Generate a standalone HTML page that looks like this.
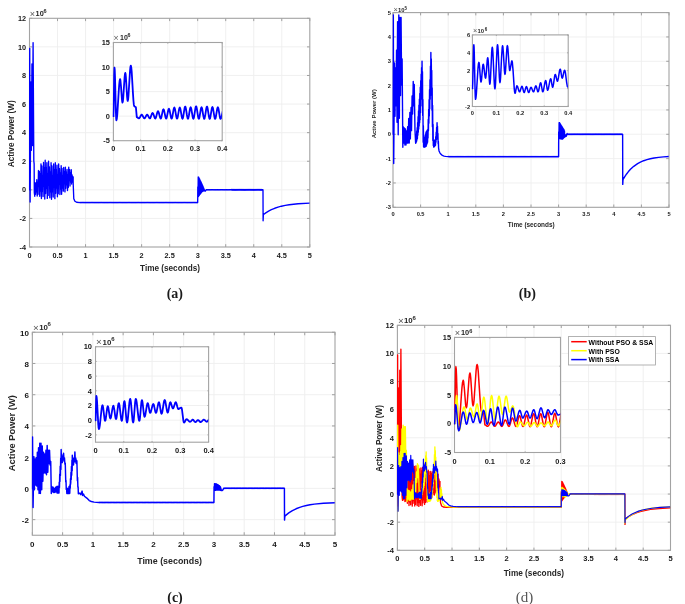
<!DOCTYPE html>
<html><head><meta charset="utf-8"><style>
html,body{margin:0;padding:0;background:#fff;}
svg{display:block;}
text{font-family:"Liberation Sans",sans-serif;font-weight:bold;}
</style></head><body>
<svg width="685" height="604" viewBox="0 0 685 604" style="will-change:transform">
<rect width="685" height="604" fill="#fff"/>
<rect x="29.5" y="18.3" width="280.3" height="228.7" fill="#fff"/>
<path d="M57.53 18.3V247M85.56 18.3V247M113.59 18.3V247M141.62 18.3V247M169.65 18.3V247M197.68 18.3V247M225.71 18.3V247M253.74 18.3V247M281.77 18.3V247M29.5 218.41H309.8M29.5 189.82H309.8M29.5 161.24H309.8M29.5 132.65H309.8M29.5 104.06H309.8M29.5 75.48H309.8M29.5 46.89H309.8" stroke="#eeeeee" stroke-width="0.9" fill="none"/>
<path d="M29.5 247v-2.8M29.5 18.3v2.8M57.53 247v-2.8M57.53 18.3v2.8M85.56 247v-2.8M85.56 18.3v2.8M113.59 247v-2.8M113.59 18.3v2.8M141.62 247v-2.8M141.62 18.3v2.8M169.65 247v-2.8M169.65 18.3v2.8M197.68 247v-2.8M197.68 18.3v2.8M225.71 247v-2.8M225.71 18.3v2.8M253.74 247v-2.8M253.74 18.3v2.8M281.77 247v-2.8M281.77 18.3v2.8M309.8 247v-2.8M309.8 18.3v2.8M29.5 247h2.8M309.8 247h-2.8M29.5 218.41h2.8M309.8 218.41h-2.8M29.5 189.82h2.8M309.8 189.82h-2.8M29.5 161.24h2.8M309.8 161.24h-2.8M29.5 132.65h2.8M309.8 132.65h-2.8M29.5 104.06h2.8M309.8 104.06h-2.8M29.5 75.48h2.8M309.8 75.48h-2.8M29.5 46.89h2.8M309.8 46.89h-2.8M29.5 18.3h2.8M309.8 18.3h-2.8" stroke="#8a8a8a" stroke-width="0.8" fill="none"/>
<rect x="29.5" y="18.3" width="280.3" height="228.7" fill="none" stroke="#a3a3a3" stroke-width="1.1"/>
<clipPath id="c1"><rect x="28.82" y="17.62" width="280.68" height="230.05"/></clipPath>
<g clip-path="url(#c1)" fill="none" stroke-width="1.35" stroke-linejoin="round" stroke-linecap="round">
<path d="M29.5 189.82 29.72 48.32 30.12 201.97 30.88 81.91 31.38 150.37 31.95 64.04 32.45 145.51 33.09 42.6 33.81 160.81 34.14 163.81 34.32 192.68 34.76 196.26 35.11 182.84" stroke="#0000ff"/>
<path d="M35.11 182.84 35.53 194.29 35.95 183.88 36.37 191.73 36.79 179.74 37.21 196.08 37.63 182.06 38.05 194.22 38.47 170.55 38.89 186.23 39.31 171.49 39.73 196.28 40.15 174.14 40.57 191.15 40.99 163.83 41.41 198.46 41.83 166.01 42.25 191.38 42.67 175.74 43.09 196.55 43.52 162.39 43.94 185.84 44.36 168.14 44.78 198.96 45.2 160.29 45.62 193.6 46.04 167.93 46.46 188.21 46.88 162.71 47.3 198.42 47.72 173.87 48.14 195.44 48.56 161.24 48.98 184.89 49.4 166.93 49.82 197.76 50.24 172.31 50.66 191.79 51.08 162.73 51.5 199.26 51.92 165.85 52.34 191.85 52.76 176.35 53.19 197.05 53.61 163.93 54.03 186.65 54.45 169.87 54.87 198.69 55.29 162.78 55.71 193.34 56.13 169.97 56.55 188.15 56.97 165.17 57.39 196.86 57.81 175.01 58.23 193.82 58.65 163.91 59.07 184.25 59.49 168.78 59.91 194.58 60.33 173.32 60.75 189.04 61.17 165.71 61.59 194.3 62.01 168.37 62.44 187.98 62.86 176.29 63.28 191.18 63.7 167.42 64.12 183.52 64.54 171.87 64.96 191.94 65.38 167.24 65.8 188.25 66.22 172.43 66.64 184.76 67.06 169.48 67.48 190.56 67.9 175.43 68.32 187.52 68.74 167.24 69.16 180.21 69.58 169.72 70 186.02 70.42 172.9 70.84 182 71.26 169.73 71.69 184.1 72.11 175.04 72.53 182.2 72.95 176.96" stroke="#0000ff" stroke-width="1.35"/>
<path d="M72.95 176.96 73.79 198.69 74.91 201.26 76.59 202.26 79.95 202.55 80.23 202.37 80.79 202.72 81.36 202.37 81.92 202.72 82.48 202.37 83.04 202.72 83.6 202.37 84.16 202.72 84.72 202.37 85.28 202.72 85.84 202.37 86.4 202.72 86.96 202.37 87.52 202.72 88.08 202.37 88.64 202.72 89.2 202.37 89.76 202.72 90.33 202.37 90.89 202.72 91.45 202.37 92.01 202.72 92.57 202.37 93.13 202.72 93.69 202.37 94.25 202.72 94.81 202.37 95.37 202.72 95.93 202.37 96.49 202.72 97.05 202.37 97.61 202.72 98.17 202.37 98.73 202.72 99.29 202.37 99.86 202.72 100.42 202.37 100.98 202.72 101.54 202.37 102.1 202.72 102.66 202.37 103.22 202.72 103.78 202.37 104.34 202.72 104.9 202.37 105.46 202.72 106.02 202.37 106.58 202.72 107.14 202.37 107.7 202.72 108.26 202.37 108.82 202.72 109.39 202.37 109.95 202.72 110.51 202.37 111.07 202.72 111.63 202.37 112.19 202.72 112.75 202.37 113.31 202.72 113.87 202.37 114.43 202.72 114.99 202.37 115.55 202.72 116.11 202.37 116.67 202.72 117.23 202.37 117.79 202.72 118.36 202.37 118.92 202.72 119.48 202.37 120.04 202.72 120.6 202.37 121.16 202.72 121.72 202.37 122.28 202.72 122.84 202.37 123.4 202.72 123.96 202.37 124.52 202.72 125.08 202.37 125.64 202.72 126.2 202.37 126.76 202.72 127.32 202.37 127.89 202.72 128.45 202.37 129.01 202.72 129.57 202.37 130.13 202.72 130.69 202.37 131.25 202.72 131.81 202.37 132.37 202.72 132.93 202.37 133.49 202.72 134.05 202.37 134.61 202.72 135.17 202.37 135.73 202.72 136.29 202.37 136.85 202.72 137.42 202.37 137.98 202.72 138.54 202.37 139.1 202.72 139.66 202.37 140.22 202.72 140.78 202.37 141.34 202.72 141.9 202.37 142.46 202.72 143.02 202.37 143.58 202.72 144.14 202.37 144.7 202.72 145.26 202.37 145.82 202.72 146.39 202.37 146.95 202.72 147.51 202.37 148.07 202.72 148.63 202.37 149.19 202.72 149.75 202.37 150.31 202.72 150.87 202.37 151.43 202.72 151.99 202.37 152.55 202.72 153.11 202.37 153.67 202.72 154.23 202.37 154.79 202.72 155.35 202.37 155.92 202.72 156.48 202.37 157.04 202.72 157.6 202.37 158.16 202.72 158.72 202.37 159.28 202.72 159.84 202.37 160.4 202.72 160.96 202.37 161.52 202.72 162.08 202.37 162.64 202.72 163.2 202.37 163.76 202.72 164.32 202.37 164.88 202.72 165.45 202.37 166.01 202.72 166.57 202.37 167.13 202.72 167.69 202.37 168.25 202.72 168.81 202.37 169.37 202.72 169.93 202.37 170.49 202.72 171.05 202.37 171.61 202.72 172.17 202.37 172.73 202.72 173.29 202.37 173.85 202.72 174.42 202.37 174.98 202.72 175.54 202.37 176.1 202.72 176.66 202.37 177.22 202.72 177.78 202.37 178.34 202.72 178.9 202.37 179.46 202.72 180.02 202.37 180.58 202.72 181.14 202.37 181.7 202.72 182.26 202.37 182.82 202.72 183.38 202.37 183.95 202.72 184.51 202.37 185.07 202.72 185.63 202.37 186.19 202.72 186.75 202.37 187.31 202.72 187.87 202.37 188.43 202.72 188.99 202.37 189.55 202.72 190.11 202.37 190.67 202.72 191.23 202.37 191.79 202.72 192.35 202.37 192.91 202.72 193.48 202.37 194.04 202.72 194.6 202.37 195.16 202.72 195.72 202.37 196.28 202.72 196.84 202.37 197.4 202.72 197.68 202.55 197.79 186.97 198.02 197.03 198.24 176.96 198.46 196.41 198.69 177.19 198.91 195.79 199.14 178.1 199.36 195.17 199.59 179.01 199.81 194.55 200.03 179.92 200.26 193.97 200.48 180.83 200.71 193.4 200.93 181.74 201.16 192.83 201.38 182.71 201.6 192.25 201.83 183.71 202.05 191.68 202.28 184.71 202.5 191.39 202.73 185.72 202.95 191.19 203.17 186.72 203.4 190.99 203.62 187.82 203.85 190.79 204.07 188.97 204.3 190.59 204.52 189.98 204.74 190.83 204.97 190.59 205.19 191.21 205.42 190.75 205.64 190.75 205.86 190.18 206.09 190.18 206.31 189.61 206.54 189.82 206.93 189.65 207.49 190 208.05 189.65 208.61 190 209.17 189.65 209.73 190 210.29 189.65 210.85 190 211.41 189.65 211.98 190 212.54 189.65 213.1 190 213.66 189.65 214.22 190 214.78 189.65 215.34 190 215.9 189.65 216.46 190 217.02 189.65 217.58 190 218.14 189.65 218.7 190 219.26 189.65 219.82 190 220.38 189.65 220.94 190 221.51 189.65 222.07 190 222.63 189.65 223.19 190 223.75 189.65 224.31 190 224.87 189.65 225.43 190 225.99 189.65 226.55 190 227.11 189.65 227.67 190 228.23 189.65 228.79 190 229.35 189.65 229.91 190 230.48 189.65 231.04 190 231.6 189.44 232.16 190.21 232.72 189.44 233.28 190.21 233.84 189.44 234.4 190.21 234.96 189.44 235.52 190.21 236.08 189.44 236.64 190.21 237.2 189.44 237.76 190.21 238.32 189.44 238.88 190.21 239.44 189.44 240.01 190.21 240.57 189.44 241.13 190.21 241.69 189.44 242.25 190.21 242.81 189.44 243.37 190.21 243.93 189.44 244.49 190.21 245.05 189.44 245.61 190.21 246.17 189.44 246.73 190.21 247.29 189.44 247.85 190.21 248.41 189.44 248.97 190.21 249.54 189.44 250.1 190.21 250.66 189.44 251.22 190.21 251.78 189.44 252.34 190.21 252.9 189.44 253.46 190.21 254.02 189.44 254.58 190.21 255.14 189.44 255.7 190.21 256.26 189.44 256.82 190.21 257.38 189.44 257.94 190.21 258.51 189.44 259.07 190.21 259.63 189.44 260.19 190.21 260.75 189.44 261.31 190.21 261.87 189.44 262.43 190.21 262.99 189.82 263.1 220.7 263.38 214.84 263.55 214.47 265.78 212.84 268.57 211.11 271.35 209.67 274.69 208.26 278.04 207.13 281.38 206.22 285.28 205.38 289.18 204.74 298.1 203.76 309.8 203.11" stroke="#0000ff"/>
</g>
<g font-size="7.3" fill="#181818">
<text x="29.5" y="257.8" text-anchor="middle">0</text>
<text x="57.53" y="257.8" text-anchor="middle">0.5</text>
<text x="85.56" y="257.8" text-anchor="middle">1</text>
<text x="113.59" y="257.8" text-anchor="middle">1.5</text>
<text x="141.62" y="257.8" text-anchor="middle">2</text>
<text x="169.65" y="257.8" text-anchor="middle">2.5</text>
<text x="197.68" y="257.8" text-anchor="middle">3</text>
<text x="225.71" y="257.8" text-anchor="middle">3.5</text>
<text x="253.74" y="257.8" text-anchor="middle">4</text>
<text x="281.77" y="257.8" text-anchor="middle">4.5</text>
<text x="309.8" y="257.8" text-anchor="middle">5</text>
<text x="26" y="249.63" text-anchor="end">-4</text>
<text x="26" y="221.04" text-anchor="end">-2</text>
<text x="26" y="192.45" text-anchor="end">0</text>
<text x="26" y="163.87" text-anchor="end">2</text>
<text x="26" y="135.28" text-anchor="end">4</text>
<text x="26" y="106.69" text-anchor="end">6</text>
<text x="26" y="78.1" text-anchor="end">8</text>
<text x="26" y="49.52" text-anchor="end">10</text>
<text x="26" y="20.93" text-anchor="end">12</text>
</g>
<text x="29.7" y="15.8" font-size="9.12" style="font-weight:normal" fill="#5a5a5a" dy="0.73">&#215;</text>
<text x="35.6" y="15.8" font-size="7.3" fill="#262626">10</text>
<text x="43.6" y="13" font-size="5.55" fill="#262626">6</text>
<rect x="113.4" y="42.5" width="108.8" height="98.2" fill="#fff"/>
<path d="M140.6 42.5V140.7M167.8 42.5V140.7M195 42.5V140.7M113.4 116.15H222.2M113.4 91.6H222.2M113.4 67.05H222.2" stroke="#eeeeee" stroke-width="0.9" fill="none"/>
<path d="M113.4 140.7v-1.1M113.4 42.5v1.1M140.6 140.7v-1.1M140.6 42.5v1.1M167.8 140.7v-1.1M167.8 42.5v1.1M195 140.7v-1.1M195 42.5v1.1M222.2 140.7v-1.1M222.2 42.5v1.1M113.4 140.7h1.1M222.2 140.7h-1.1M113.4 116.15h1.1M222.2 116.15h-1.1M113.4 91.6h1.1M222.2 91.6h-1.1M113.4 67.05h1.1M222.2 67.05h-1.1M113.4 42.5h1.1M222.2 42.5h-1.1" stroke="#8a8a8a" stroke-width="0.8" fill="none"/>
<rect x="113.4" y="42.5" width="108.8" height="98.2" fill="none" stroke="#a3a3a3" stroke-width="1.1"/>
<clipPath id="c2"><rect x="112.5" y="41.6" width="109.4" height="100"/></clipPath>
<g clip-path="url(#c2)" fill="none" stroke-width="1.8" stroke-linejoin="round" stroke-linecap="round">
<path d="M113.4 116.15 113.67 109.03 114.22 74.66 114.49 67.54 114.73 69.55 114.96 75.27 115.92 112.59 116.15 118.31 116.39 120.32 116.85 118.75 117.32 114.28 118.7 91.81 119.17 85.12 119.63 80.65 120.09 79.08 120.39 79.97 121 86.34 121.91 99.15 122.21 101.7 122.51 102.6 122.86 101.47 123.21 98.26 124.59 77.29 124.94 74.07 125.29 72.94 125.59 74.01 125.89 77.04 127.1 96.83 127.4 99.86 127.71 100.93 128.09 99.58 128.48 95.75 130.03 70.75 130.42 66.92 130.81 65.58 131.24 67.12 131.68 71.52 132.98 93.65 133.42 100.24 133.85 104.64 134.29 106.18 135.89 107.21 136.79 117.13 137.32 117.31 138.38 118.18 138.91 118.36 139.26 118.22 139.95 117.22 140.99 115.22 141.34 114.82 141.69 114.68 142.03 114.82 142.37 115.22 143.73 117.83 144.07 118.23 144.41 118.37 144.75 118.23 145.09 117.83 146.45 115.22 146.79 114.82 147.13 114.68 147.47 114.82 147.81 115.22 149.17 117.87 149.51 118.28 149.85 118.42 150.19 118.21 150.53 117.62 151.89 113.76 152.23 113.17 152.57 112.96 152.91 113.17 153.25 113.77 154.61 117.66 154.95 118.26 155.29 118.47 155.63 118.19 155.97 117.41 157.33 112.3 157.67 111.52 158.01 111.24 158.35 111.52 158.69 112.31 160.05 117.45 160.39 118.24 160.73 118.52 161.07 118.16 161.41 117.16 162.77 110.63 163.11 109.63 163.45 109.28 163.79 109.63 164.13 110.64 165.49 117.21 165.83 118.21 166.17 118.57 166.51 118.19 166.85 117.13 168.21 110.22 168.55 109.16 168.89 108.78 169.23 109.16 169.57 110.22 170.93 117.18 171.27 118.24 171.61 118.61 171.95 118.19 172.29 117 173.65 109.18 173.99 107.98 174.33 107.56 174.67 107.98 175.01 109.18 176.37 117.04 176.71 118.24 177.05 118.66 177.39 118.24 177.73 117.04 179.09 109.18 179.43 107.98 179.77 107.56 180.11 107.98 180.45 109.19 181.81 117.08 182.15 118.29 182.49 118.71 182.83 118.25 183.17 116.94 184.53 108.35 184.87 107.04 185.21 106.58 185.55 107.04 185.89 108.36 186.91 115 187.59 118.3 187.93 118.76 188.27 118.33 188.95 115.23 189.97 108.99 190.31 107.75 190.65 107.31 190.99 107.75 191.33 109 192.69 117.13 193.03 118.37 193.37 118.81 193.71 118.34 194.05 116.98 195.41 108.16 195.75 106.81 196.09 106.33 196.43 106.81 196.77 108.16 198.13 117.02 198.47 118.37 198.81 118.85 199.15 118.41 199.49 117.16 200.85 109 201.19 107.75 201.53 107.31 201.87 107.75 202.21 109 203.23 115.29 203.91 118.41 204.25 118.85 204.59 118.38 205.27 115.06 206.29 108.37 206.63 107.04 206.97 106.58 207.31 107.04 207.65 108.37 209.01 117.05 209.35 118.38 209.69 118.85 210.03 118.4 210.37 117.12 211.73 108.79 212.07 107.52 212.41 107.07 212.75 107.52 213.09 108.79 214.45 117.12 214.79 118.4 215.13 118.85 215.47 118.41 215.81 117.16 217.17 109 217.51 107.75 217.85 107.31 218.19 107.75 218.53 109 219.89 117.16 220.23 118.41 220.57 118.85 221.01 118.41 221.45 117.16 223.22 109 223.66 107.75 224.1 107.31 224.44 107.75 224.78 109 225.8 115.29 226.48 118.41 226.82 118.85 227.16 118.4 227.5 117.1" stroke="#0000ff"/>
</g>
<g font-size="7.4" fill="#181818">
<text x="113.4" y="151.3" text-anchor="middle">0</text>
<text x="140.6" y="151.3" text-anchor="middle">0.1</text>
<text x="167.8" y="151.3" text-anchor="middle">0.2</text>
<text x="195" y="151.3" text-anchor="middle">0.3</text>
<text x="222.2" y="151.3" text-anchor="middle">0.4</text>
<text x="109.9" y="143.36" text-anchor="end">-5</text>
<text x="109.9" y="118.81" text-anchor="end">0</text>
<text x="109.9" y="94.26" text-anchor="end">5</text>
<text x="109.9" y="69.71" text-anchor="end">10</text>
<text x="109.9" y="45.16" text-anchor="end">15</text>
</g>
<text x="113.6" y="40.3" font-size="8.75" style="font-weight:normal" fill="#5a5a5a" dy="0.7">&#215;</text>
<text x="120" y="40.3" font-size="7" fill="#262626">10</text>
<text x="127.6" y="37.2" font-size="5.32" fill="#262626">6</text>
<rect x="393" y="12.6" width="276" height="194.7" fill="#fff"/>
<path d="M420.6 12.6V207.3M448.2 12.6V207.3M475.8 12.6V207.3M503.4 12.6V207.3M531 12.6V207.3M558.6 12.6V207.3M586.2 12.6V207.3M613.8 12.6V207.3M641.4 12.6V207.3M393 182.96H669M393 158.62H669M393 134.29H669M393 109.95H669M393 85.61H669M393 61.28H669M393 36.94H669" stroke="#eeeeee" stroke-width="0.9" fill="none"/>
<path d="M393 207.3v-2.8M393 12.6v2.8M420.6 207.3v-2.8M420.6 12.6v2.8M448.2 207.3v-2.8M448.2 12.6v2.8M475.8 207.3v-2.8M475.8 12.6v2.8M503.4 207.3v-2.8M503.4 12.6v2.8M531 207.3v-2.8M531 12.6v2.8M558.6 207.3v-2.8M558.6 12.6v2.8M586.2 207.3v-2.8M586.2 12.6v2.8M613.8 207.3v-2.8M613.8 12.6v2.8M641.4 207.3v-2.8M641.4 12.6v2.8M669 207.3v-2.8M669 12.6v2.8M393 207.3h2.8M669 207.3h-2.8M393 182.96h2.8M669 182.96h-2.8M393 158.62h2.8M669 158.62h-2.8M393 134.29h2.8M669 134.29h-2.8M393 109.95h2.8M669 109.95h-2.8M393 85.61h2.8M669 85.61h-2.8M393 61.28h2.8M669 61.28h-2.8M393 36.94h2.8M669 36.94h-2.8M393 12.6h2.8M669 12.6h-2.8" stroke="#8a8a8a" stroke-width="0.8" fill="none"/>
<rect x="393" y="12.6" width="276" height="194.7" fill="none" stroke="#a3a3a3" stroke-width="1.1"/>
<clipPath id="c3"><rect x="392.3" y="11.9" width="276.4" height="196.1"/></clipPath>
<g clip-path="url(#c3)" fill="none" stroke-width="1.4" stroke-linejoin="round" stroke-linecap="round">
<path d="M393 134.29 393.33 15.03 393.72 163.49 394.49 62.98 394.99 116.28 395.48 67.85 396.04 105.81 396.53 50.32 397.03 122.36 397.58 21.6 398.19 134.77 398.8 15.03 399.35 118.22 399.96 17.47 400.51 95.59 401.06 17.47 401.61 85.13 402.11 58.84 402.83 147.19 403.27 126.74 403.87 143.05 404.43 127.96 404.92 145 405.45 128.93 405.97 145 406.5 130.88 407.08 143.05 407.63 126.74 408.12 143.05 408.73 118.47 409.23 143.05 409.89 112.38 410.33 138.91 411.05 107.52 411.49 130.64 412.1 95.83 412.6 114.09 413.23 81.48 413.7 105.81 414.25 84.4 414.97 129.66 415.63 143.29 415.85 137.53 416.07 142.72 416.29 134.29 416.52 141.43 416.74 131.04 416.96 140.13 417.18 127.8 417.4 138.38 417.62 122.61 417.84 135.26 418.06 116.76 418.28 132.15 418.5 110.92 418.72 129.03 418.94 105.08 419.16 125.92 419.39 99.24 419.61 122.8 419.83 93.4 420.05 119.68 420.27 87.22 420.49 112.87 420.71 80.7 420.93 106.06 421.15 74.17 421.37 99.24 421.59 67.65 421.81 92.43 422.04 61.13 422.26 85.61 422.48 71.76 422.7 115.47 422.92 99.53 423.14 142.17 423.36 125.77 423.58 146.85 423.8 140.94 424.02 147.28 424.24 139.21 424.46 147.11 424.68 137.48 424.91 146.93 425.13 135.75 425.35 146.76 425.57 134.02 425.79 146.59 426.01 132.29 426.23 146.13 426.45 131.37 426.67 144.83 426.89 130.72 427.11 143.54 427.33 130.07 427.56 142.24 427.78 129.42 428 137.94 428.22 119.49 428.44 130.64 428.66 109.56 428.88 123.34 429.1 99.63 429.32 116.03 429.54 89.7 429.76 108.73 429.98 79.77 430.2 99.36 430.43 66.14 430.65 87.9 430.87 52.51 431.09 84.68 431.31 59.07 431.53 95.16 431.75 70.52 431.97 110.19 432.19 88.05 432.41 126.74 432.63 105.57 432.85 140.43 433.08 124.55 433.3 145.52 433.52 141.52 433.74 147.13 433.96 141 434.18 146.66 434.4 140.47 434.62 146.19 434.84 139.94 435.06 145.71 435.28 139.42 435.5 145.24 435.72 136.82 435.95 142.32 436.17 132.15 436.39 139.4 436.61 127.47 436.83 136.48 437.05 122.8 437.27 135.26 437.49 126.3 437.71 139.16 437.93 133.41 438.15 143.63 438.37 141.39 438.6 148.11 439.04 150.95 439.91 152.82 440.78 154.08 441.87 155.09 442.96 155.71 444.05 156.09 445.58 156.38 448.2 156.59 448.48 156.48 449.03 156.87 449.58 156.48 450.13 156.87 450.68 156.48 451.24 156.87 451.79 156.48 452.34 156.87 452.89 156.48 453.44 156.87 454 156.48 454.55 156.87 455.1 156.48 455.65 156.87 456.2 156.48 456.76 156.87 457.31 156.48 457.86 156.87 458.41 156.48 458.96 156.87 459.52 156.48 460.07 156.87 460.62 156.48 461.17 156.87 461.72 156.48 462.28 156.87 462.83 156.48 463.38 156.87 463.93 156.48 464.48 156.87 465.04 156.48 465.59 156.87 466.14 156.48 466.69 156.87 467.24 156.48 467.8 156.87 468.35 156.48 468.9 156.87 469.45 156.48 470 156.87 470.56 156.48 471.11 156.87 471.66 156.48 472.21 156.87 472.76 156.48 473.32 156.87 473.87 156.48 474.42 156.87 474.97 156.48 475.52 156.87 476.08 156.48 476.63 156.87 477.18 156.48 477.73 156.87 478.28 156.48 478.84 156.87 479.39 156.48 479.94 156.87 480.49 156.48 481.04 156.87 481.6 156.48 482.15 156.87 482.7 156.48 483.25 156.87 483.8 156.48 484.36 156.87 484.91 156.48 485.46 156.87 486.01 156.48 486.56 156.87 487.12 156.48 487.67 156.87 488.22 156.48 488.77 156.87 489.32 156.48 489.88 156.87 490.43 156.48 490.98 156.87 491.53 156.48 492.08 156.87 492.64 156.48 493.19 156.87 493.74 156.48 494.29 156.87 494.84 156.48 495.4 156.87 495.95 156.48 496.5 156.87 497.05 156.48 497.6 156.87 498.16 156.48 498.71 156.87 499.26 156.48 499.81 156.87 500.36 156.48 500.92 156.87 501.47 156.48 502.02 156.87 502.57 156.48 503.12 156.87 503.68 156.48 504.23 156.87 504.78 156.48 505.33 156.87 505.88 156.48 506.44 156.87 506.99 156.48 507.54 156.87 508.09 156.48 508.64 156.87 509.2 156.48 509.75 156.87 510.3 156.48 510.85 156.87 511.4 156.48 511.96 156.87 512.51 156.48 513.06 156.87 513.61 156.48 514.16 156.87 514.72 156.48 515.27 156.87 515.82 156.48 516.37 156.87 516.92 156.48 517.48 156.87 518.03 156.48 518.58 156.87 519.13 156.48 519.68 156.87 520.24 156.48 520.79 156.87 521.34 156.48 521.89 156.87 522.44 156.48 523 156.87 523.55 156.48 524.1 156.87 524.65 156.48 525.2 156.87 525.76 156.48 526.31 156.87 526.86 156.48 527.41 156.87 527.96 156.48 528.52 156.87 529.07 156.48 529.62 156.87 530.17 156.48 530.72 156.87 531.28 156.48 531.83 156.87 532.38 156.48 532.93 156.87 533.48 156.48 534.04 156.87 534.59 156.48 535.14 156.87 535.69 156.48 536.24 156.87 536.8 156.48 537.35 156.87 537.9 156.48 538.45 156.87 539 156.48 539.56 156.87 540.11 156.48 540.66 156.87 541.21 156.48 541.76 156.87 542.32 156.48 542.87 156.87 543.42 156.48 543.97 156.87 544.52 156.48 545.08 156.87 545.63 156.48 546.18 156.87 546.73 156.48 547.28 156.87 547.84 156.48 548.39 156.87 548.94 156.48 549.49 156.87 550.04 156.48 550.6 156.87 551.15 156.48 551.7 156.87 552.25 156.48 552.8 156.87 553.36 156.48 553.91 156.87 554.46 156.48 555.01 156.87 555.56 156.48 556.12 156.87 556.67 156.48 557.22 156.87 557.77 156.48 558.32 156.87 558.6 156.68 558.71 131.85 558.93 138.46 559.15 122.61 559.37 138.54 559.59 122.78 559.81 138.63 560.04 123.48 560.26 138.72 560.48 124.18 560.7 138.81 560.92 124.88 561.14 138.89 561.36 125.58 561.58 138.98 561.8 126.28 562.02 139.07 562.24 126.98 562.46 139.16 562.68 127.68 562.91 138.71 563.13 128.38 563.35 138.26 563.57 129.08 563.79 137.82 564.01 129.78 564.23 137.37 564.45 130.86 564.67 136.99 564.89 134.58 565.11 136.68 565.33 135.29 565.56 136.52 565.78 135 566 136.36 566.22 134.72 566.44 135.94 566.66 134.43 566.88 134.77 567.1 133.48 567.32 134.51 567.71 134 568.26 134.48 568.81 134 569.36 134.48 569.92 134 570.47 134.48 571.02 134 571.57 134.48 572.12 134 572.68 134.48 573.23 134 573.78 134.48 574.33 134 574.88 134.48 575.44 134 575.99 134.48 576.54 134 577.09 134.48 577.64 134 578.2 134.48 578.75 134 579.3 134.48 579.85 134 580.4 134.48 580.96 134 581.51 134.48 582.06 134 582.61 134.48 583.16 134 583.72 134.48 584.27 134 584.82 134.48 585.37 134 585.92 134.48 586.48 134 587.03 134.48 587.58 134 588.13 134.48 588.68 134 589.24 134.48 589.79 134 590.34 134.48 590.89 134 591.44 134.48 592 134 592.55 134.48 593.1 134 593.65 134.48 594.2 134 594.76 134.48 595.31 134 595.86 134.48 596.41 134 596.96 134.48 597.52 134 598.07 134.48 598.62 134 599.17 134.48 599.72 134 600.28 134.48 600.83 134 601.38 134.48 601.93 134 602.48 134.48 603.04 134 603.59 134.48 604.14 134 604.69 134.48 605.24 134 605.8 134.48 606.35 134 606.9 134.48 607.45 134 608 134.48 608.56 134 609.11 134.48 609.66 134 610.21 134.48 610.76 134 611.32 134.48 611.87 134 612.42 134.48 612.97 134 613.52 134.48 614.08 134 614.63 134.48 615.18 134 615.73 134.48 616.28 134 616.84 134.48 617.39 134 617.94 134.48 618.49 134 619.04 134.48 619.6 134 620.15 134.48 620.7 134 621.25 134.48 621.8 134 622.36 134.48 622.63 134.29 622.74 184.42 623.07 178.58 623.29 179.12 624.95 176.37 626.6 173.95 628.25 171.81 630.45 169.34 633.76 166.33 637.61 163.65 640.37 162.16 643.67 160.73 646.97 159.62 650.28 158.76 654.13 157.99 658.54 157.34 663.49 156.83 669 156.45" stroke="#0000ff"/>
</g>
<g font-size="5.7" fill="#181818">
<text x="393" y="215.5" text-anchor="middle">0</text>
<text x="420.6" y="215.5" text-anchor="middle">0.5</text>
<text x="448.2" y="215.5" text-anchor="middle">1</text>
<text x="475.8" y="215.5" text-anchor="middle">1.5</text>
<text x="503.4" y="215.5" text-anchor="middle">2</text>
<text x="531" y="215.5" text-anchor="middle">2.5</text>
<text x="558.6" y="215.5" text-anchor="middle">3</text>
<text x="586.2" y="215.5" text-anchor="middle">3.5</text>
<text x="613.8" y="215.5" text-anchor="middle">4</text>
<text x="641.4" y="215.5" text-anchor="middle">4.5</text>
<text x="669" y="215.5" text-anchor="middle">5</text>
<text x="390.9" y="209.35" text-anchor="end">-3</text>
<text x="390.9" y="185.01" text-anchor="end">-2</text>
<text x="390.9" y="160.68" text-anchor="end">-1</text>
<text x="390.9" y="136.34" text-anchor="end">0</text>
<text x="390.9" y="112" text-anchor="end">1</text>
<text x="390.9" y="87.66" text-anchor="end">2</text>
<text x="390.9" y="63.33" text-anchor="end">3</text>
<text x="390.9" y="38.99" text-anchor="end">4</text>
<text x="390.9" y="14.65" text-anchor="end">5</text>
</g>
<text x="393.6" y="11.7" font-size="7.38" style="font-weight:normal" fill="#5a5a5a" dy="0.59">&#215;</text>
<text x="397.9" y="11.7" font-size="5.9" fill="#262626">10</text>
<text x="404.4" y="9.9" font-size="4.48" fill="#262626">5</text>
<rect x="472.4" y="34.9" width="95.8" height="71.6" fill="#fff"/>
<path d="M496.35 34.9V106.5M520.3 34.9V106.5M544.25 34.9V106.5M472.4 88.6H568.2M472.4 70.7H568.2M472.4 52.8H568.2" stroke="#eeeeee" stroke-width="0.9" fill="none"/>
<path d="M472.4 106.5v-1M472.4 34.9v1M496.35 106.5v-1M496.35 34.9v1M520.3 106.5v-1M520.3 34.9v1M544.25 106.5v-1M544.25 34.9v1M568.2 106.5v-1M568.2 34.9v1M472.4 106.5h1M568.2 106.5h-1M472.4 88.6h1M568.2 88.6h-1M472.4 70.7h1M568.2 70.7h-1M472.4 52.8h1M568.2 52.8h-1M472.4 34.9h1M568.2 34.9h-1" stroke="#8a8a8a" stroke-width="0.8" fill="none"/>
<rect x="472.4" y="34.9" width="95.8" height="71.6" fill="none" stroke="#a3a3a3" stroke-width="1.1"/>
<clipPath id="c4"><rect x="471.65" y="34.15" width="96.25" height="73.1"/></clipPath>
<g clip-path="url(#c4)" fill="none" stroke-width="1.5" stroke-linejoin="round" stroke-linecap="round">
<path d="M472.4 88.6 472.58 86.93 472.76 82.18 473.48 51.17 473.66 46.41 473.84 44.75 474.05 46.82 474.26 52.74 475.09 91.34 475.3 97.26 475.51 99.34 475.93 97.93 476.35 93.93 478.03 67.79 478.45 63.78 478.87 62.38 479.14 63.12 479.41 65.25 480.48 79.11 480.75 81.23 481.02 81.98 481.29 81.3 481.56 79.37 482.64 66.77 482.91 64.84 483.18 64.17 483.48 64.7 483.78 66.21 484.67 73.82 485.27 77.6 485.57 78.13 485.84 77.35 486.38 71.83 487.19 60.71 487.46 58.5 487.73 57.72 488 58.73 488.27 61.6 489.34 80.33 489.61 83.21 489.88 84.21 490.18 82.8 490.48 78.79 491.68 52.59 491.98 48.57 492.28 47.16 492.61 48.75 492.94 53.26 494.25 82.68 494.58 87.2 494.91 88.78 495.24 87.1 495.57 82.33 496.89 51.19 497.22 46.42 497.55 44.75 497.85 46.19 498.15 50.3 499.34 77.14 499.64 81.25 499.94 82.69 500.27 81.28 500.6 77.27 501.59 57.08 502.25 47.05 502.58 45.64 502.88 46.73 503.48 54.51 504.37 70.16 504.67 73.28 504.97 74.37 505.27 73.28 505.57 70.16 506.77 49.85 507.07 46.73 507.37 45.64 507.67 46.59 507.97 49.28 508.86 62.84 509.46 69.57 509.76 70.52 510.03 70.15 511.65 61.22 511.92 60.86 512.31 62.09 513.09 70.88 514.25 88.59 514.64 92.11 515.03 93.34 515.27 93.06 515.51 92.24 516.47 86.93 516.71 86.11 516.95 85.83 517.28 86.05 517.61 86.7 518.92 90.94 519.25 91.59 519.58 91.82 519.88 91.61 520.18 91.01 521.08 87.99 521.68 86.48 521.98 86.27 522.25 86.51 522.78 88.21 523.59 91.62 523.86 92.3 524.13 92.54 524.42 92.31 524.7 91.67 525.84 87.5 526.12 86.86 526.41 86.63 526.69 86.86 526.98 87.5 528.11 91.67 528.4 92.31 528.68 92.54 528.97 92.34 529.26 91.78 530.41 88.11 530.69 87.54 530.98 87.35 531.29 87.52 531.6 88 532.85 91.17 533.16 91.65 533.47 91.82 533.77 91.59 534.07 90.94 535.27 86.7 535.57 86.05 535.87 85.83 536.14 86.05 536.41 86.7 537.48 90.94 537.75 91.59 538.02 91.82 538.35 91.48 538.68 90.5 540 84.11 540.33 83.13 540.66 82.78 540.93 83.13 541.2 84.11 542.27 90.5 542.54 91.48 542.81 91.82 543.17 91.39 543.53 90.17 544.97 82.2 545.33 80.97 545.69 80.55 545.93 80.92 546.17 81.97 547.12 88.87 547.36 89.93 547.6 90.3 547.99 89.86 548.38 88.61 549.94 80.45 550.33 79.19 550.72 78.75 550.96 79.08 551.2 80 551.91 84.63 552.39 86.93 552.63 87.26 552.96 86.77 553.62 83.31 554.61 76.33 554.94 74.95 555.27 74.46 555.54 74.71 555.81 75.44 556.61 79.1 557.15 80.92 557.42 81.17 557.77 80.72 558.46 77.47 559.49 70.93 559.83 69.63 560.18 69.18 560.43 69.52 560.69 70.49 561.7 76.82 561.96 77.79 562.21 78.13 562.51 77.83 562.81 76.98 563.71 72.68 564.31 70.55 564.61 70.25 565 70.89 565.39 72.69 566.55 81.76 567.33 86.27 567.72 86.9 568.08 87.09 568.44 87.63 569.52 90.36 570.24 91.72 570.6 91.91 570.71 91.83 571.31 90.1 571.55 89.79 571.79 90.07 572.27 91.42 572.51 91.7 572.75 91.25 572.99 90.15" stroke="#0000ff"/>
</g>
<g font-size="5.7" fill="#181818">
<text x="472.4" y="115.2" text-anchor="middle">0</text>
<text x="496.35" y="115.2" text-anchor="middle">0.1</text>
<text x="520.3" y="115.2" text-anchor="middle">0.2</text>
<text x="544.25" y="115.2" text-anchor="middle">0.3</text>
<text x="568.2" y="115.2" text-anchor="middle">0.4</text>
<text x="470.1" y="108.55" text-anchor="end">-2</text>
<text x="470.1" y="90.65" text-anchor="end">0</text>
<text x="470.1" y="72.75" text-anchor="end">2</text>
<text x="470.1" y="54.85" text-anchor="end">4</text>
<text x="470.1" y="36.95" text-anchor="end">6</text>
</g>
<text x="473" y="32.9" font-size="7.38" style="font-weight:normal" fill="#5a5a5a" dy="0.59">&#215;</text>
<text x="477.6" y="32.9" font-size="5.9" fill="#262626">10</text>
<text x="484.7" y="31.1" font-size="4.48" fill="#262626">6</text>
<rect x="32.35" y="332.25" width="302.65" height="203" fill="#fff"/>
<path d="M62.62 332.25V535.25M92.88 332.25V535.25M123.14 332.25V535.25M153.41 332.25V535.25M183.67 332.25V535.25M213.94 332.25V535.25M244.2 332.25V535.25M274.47 332.25V535.25M304.74 332.25V535.25M32.35 519.63H335M32.35 488.4H335M32.35 457.17H335M32.35 425.94H335M32.35 394.71H335M32.35 363.48H335" stroke="#eeeeee" stroke-width="0.9" fill="none"/>
<path d="M32.35 535.25v-3M32.35 332.25v3M62.62 535.25v-3M62.62 332.25v3M92.88 535.25v-3M92.88 332.25v3M123.14 535.25v-3M123.14 332.25v3M153.41 535.25v-3M153.41 332.25v3M183.67 535.25v-3M183.67 332.25v3M213.94 535.25v-3M213.94 332.25v3M244.2 535.25v-3M244.2 332.25v3M274.47 535.25v-3M274.47 332.25v3M304.74 535.25v-3M304.74 332.25v3M335 535.25v-3M335 332.25v3M32.35 519.63h3M335 519.63h-3M32.35 488.4h3M335 488.4h-3M32.35 457.17h3M335 457.17h-3M32.35 425.94h3M335 425.94h-3M32.35 394.71h3M335 394.71h-3M32.35 363.48h3M335 363.48h-3M32.35 332.25h3M335 332.25h-3" stroke="#8a8a8a" stroke-width="0.8" fill="none"/>
<rect x="32.35" y="332.25" width="302.65" height="203" fill="none" stroke="#a3a3a3" stroke-width="1.1"/>
<clipPath id="c5"><rect x="31.62" y="331.52" width="303.07" height="204.45"/></clipPath>
<g clip-path="url(#c5)" fill="none" stroke-width="1.45" stroke-linejoin="round" stroke-linecap="round">
<path d="M32.35 488.72 32.54 436.87 33.08 507.45 33.85 456.7 34.41 489.81 34.98 458.89 35.54 484.97 36.18 457.8 36.74 486.06 37.34 452.18 37.97 489.81 38.54 447.8 39.1 493.4 39.78 443.12 40.41 493.4 40.98 443.12 41.73 489.81 42.29 445.93 42.85 481.22 43.53 452.18 44.05 472.94 44.73 454.05 45.29 472.94 45.93 450.3 46.49 474.82 47.16 445.46 47.8 472.32 48.37 450.3 48.93 463.42 49.53 450.3 50.09 464.98 50.73 461.55 51.3 493.56 51.84 486.37 52.6 491.84 53.17 487.31 53.72 492.46 54.29 488.4 54.85 492.46 55.53 487.31 56.17 491.84 56.8 486.53 57.05 493.09 57.29 486.53 57.53 493.09 57.77 486.53 58.01 493.09 58.26 486.53 58.5 493.09 58.74 486.53 58.98 493.09 59.23 482.35 59.47 487.43 59.71 474.3 59.95 481.46 60.19 466.25 60.44 475.5 60.68 458.2 60.92 469.53 61.16 449.52 61.46 461.08 61.83 454.83 62.25 462.64 62.74 457.17 63.16 459.52 63.58 453.27 64.07 461.08 64.49 457.95 64.92 464.2 65.28 463.26 65.76 481.97 66 480.44 66.25 489.59 66.61 488.4 66.85 493.4 67.09 488.4 67.34 493.4 67.58 488.4 67.82 493.4 68.06 488.4 68.3 493.4 68.55 488.4 68.79 493.4 69.03 486.53 69.27 493.4 69.52 486.53 69.76 493.4 70 484.84 70.24 488.25 70.48 478.68 70.73 483.88 70.97 472.53 71.21 479.5 71.45 466.38 71.69 475.13 71.94 460.23 72.18 470.76 72.3 455.3 72.66 463.42 73.09 457.95 73.51 464.98 73.99 458.73 74.42 461.86 74.9 451.86 75.33 461.86 75.75 457.95 76.17 463.42 76.54 460.3 76.9 461.08 77.38 480.82 77.63 477.47 77.87 487.29 78.11 486.84 78.35 493.76 79.87 493.09 80.77 494.65 82.11 491.06 82.59 495.43 83.5 494.03 84.41 496.21 86.83 498.09 89.25 500.58 91.37 501.52 94.09 502.15 98.93 502.46 99.24 502.27 99.84 502.65 100.45 502.27 101.05 502.65 101.66 502.27 102.26 502.65 102.87 502.27 103.47 502.65 104.08 502.27 104.68 502.65 105.29 502.27 105.89 502.65 106.5 502.27 107.1 502.65 107.71 502.27 108.32 502.65 108.92 502.27 109.53 502.65 110.13 502.27 110.74 502.65 111.34 502.27 111.95 502.65 112.55 502.27 113.16 502.65 113.76 502.27 114.37 502.65 114.97 502.27 115.58 502.65 116.18 502.27 116.79 502.65 117.39 502.27 118 502.65 118.61 502.27 119.21 502.65 119.82 502.27 120.42 502.65 121.03 502.27 121.63 502.65 122.24 502.27 122.84 502.65 123.45 502.27 124.05 502.65 124.66 502.27 125.26 502.65 125.87 502.27 126.47 502.65 127.08 502.27 127.68 502.65 128.29 502.27 128.9 502.65 129.5 502.27 130.11 502.65 130.71 502.27 131.32 502.65 131.92 502.27 132.53 502.65 133.13 502.27 133.74 502.65 134.34 502.27 134.95 502.65 135.55 502.27 136.16 502.65 136.76 502.27 137.37 502.65 137.97 502.27 138.58 502.65 139.19 502.27 139.79 502.65 140.4 502.27 141 502.65 141.61 502.27 142.21 502.65 142.82 502.27 143.42 502.65 144.03 502.27 144.63 502.65 145.24 502.27 145.84 502.65 146.45 502.27 147.05 502.65 147.66 502.27 148.26 502.65 148.87 502.27 149.48 502.65 150.08 502.27 150.69 502.65 151.29 502.27 151.9 502.65 152.5 502.27 153.11 502.65 153.71 502.27 154.32 502.65 154.92 502.27 155.53 502.65 156.13 502.27 156.74 502.65 157.34 502.27 157.95 502.65 158.56 502.27 159.16 502.65 159.77 502.27 160.37 502.65 160.98 502.27 161.58 502.65 162.19 502.27 162.79 502.65 163.4 502.27 164 502.65 164.61 502.27 165.21 502.65 165.82 502.27 166.42 502.65 167.03 502.27 167.63 502.65 168.24 502.27 168.85 502.65 169.45 502.27 170.06 502.65 170.66 502.27 171.27 502.65 171.87 502.27 172.48 502.65 173.08 502.27 173.69 502.65 174.29 502.27 174.9 502.65 175.5 502.27 176.11 502.65 176.71 502.27 177.32 502.65 177.92 502.27 178.53 502.65 179.14 502.27 179.74 502.65 180.35 502.27 180.95 502.65 181.56 502.27 182.16 502.65 182.77 502.27 183.37 502.65 183.98 502.27 184.58 502.65 185.19 502.27 185.79 502.65 186.4 502.27 187 502.65 187.61 502.27 188.21 502.65 188.82 502.27 189.43 502.65 190.03 502.27 190.64 502.65 191.24 502.27 191.85 502.65 192.45 502.27 193.06 502.65 193.66 502.27 194.27 502.65 194.87 502.27 195.48 502.65 196.08 502.27 196.69 502.65 197.29 502.27 197.9 502.65 198.5 502.27 199.11 502.65 199.72 502.27 200.32 502.65 200.93 502.27 201.53 502.65 202.14 502.27 202.74 502.65 203.35 502.27 203.95 502.65 204.56 502.27 205.16 502.65 205.77 502.27 206.37 502.65 206.98 502.27 207.58 502.65 208.19 502.27 208.79 502.65 209.4 502.27 210.01 502.65 210.61 502.27 211.22 502.65 211.82 502.27 212.43 502.65 213.03 502.27 213.64 502.65 213.94 502.46 214.06 486.84 214.3 490.27 214.55 483.65 214.79 490.23 215.03 483.75 215.27 490.2 215.51 483.85 215.76 490.17 216 483.96 216.24 490.14 216.48 484.09 216.72 490.1 216.97 484.34 217.21 490.07 217.45 484.59 217.69 490.04 217.93 484.84 218.18 490.01 218.42 485.09 218.66 489.97 218.9 485.38 219.15 490.03 219.39 485.8 219.63 490.11 219.87 486.22 220.11 490.19 220.36 486.63 220.6 490.28 220.84 488.09 221.08 490.53 221.32 490.03 221.57 490.59 221.81 490.28 222.05 490.59 222.54 490.37 223.93 488.06 224.53 488.44 225.14 488.06 225.74 488.44 226.35 488.06 226.95 488.44 227.56 488.06 228.16 488.44 228.77 488.06 229.38 488.44 229.98 488.06 230.59 488.44 231.19 488.06 231.8 488.44 232.4 488.06 233.01 488.44 233.61 488.06 234.22 488.44 234.82 488.06 235.43 488.44 236.03 488.06 236.64 488.44 237.24 488.06 237.85 488.44 238.45 488.06 239.06 488.44 239.67 488.06 240.27 488.44 240.88 488.06 241.48 488.44 242.09 488.06 242.69 488.44 243.3 488.06 243.9 488.44 244.51 488.06 245.11 488.44 245.72 488.06 246.32 488.44 246.93 488.06 247.53 488.44 248.14 488.06 248.74 488.44 249.35 488.06 249.96 488.44 250.56 488.06 251.17 488.44 251.77 488.06 252.38 488.44 252.98 488.06 253.59 488.44 254.19 488.06 254.8 488.44 255.4 488.06 256.01 488.44 256.61 488.06 257.22 488.44 257.82 488.06 258.43 488.44 259.03 488.06 259.64 488.44 260.25 488.06 260.85 488.44 261.46 488.06 262.06 488.44 262.67 488.06 263.27 488.44 263.88 488.06 264.48 488.44 265.09 488.06 265.69 488.44 266.3 488.06 266.9 488.44 267.51 488.06 268.11 488.44 268.72 488.06 269.32 488.44 269.93 488.06 270.54 488.44 271.14 488.06 271.75 488.44 272.35 488.06 272.96 488.44 273.56 488.06 274.17 488.44 274.77 488.06 275.38 488.44 275.98 488.06 276.59 488.44 277.19 488.06 277.8 488.44 278.4 488.06 279.01 488.44 279.62 488.06 280.22 488.44 280.83 488.06 281.43 488.44 282.04 488.06 282.64 488.44 283.25 488.06 283.85 488.44 284.4 488.25 284.52 520.1 284.88 515.73 285.12 515.87 288.77 512.93 292.42 510.62 296.07 508.8 299.72 507.37 302.76 506.42 306.41 505.51 310.06 504.79 314.32 504.14 323.44 503.24 335 502.65" stroke="#0000ff"/>
</g>
<g font-size="8.0" fill="#181818">
<text x="32.35" y="546.65" text-anchor="middle">0</text>
<text x="62.62" y="546.65" text-anchor="middle">0.5</text>
<text x="92.88" y="546.65" text-anchor="middle">1</text>
<text x="123.14" y="546.65" text-anchor="middle">1.5</text>
<text x="153.41" y="546.65" text-anchor="middle">2</text>
<text x="183.67" y="546.65" text-anchor="middle">2.5</text>
<text x="213.94" y="546.65" text-anchor="middle">3</text>
<text x="244.2" y="546.65" text-anchor="middle">3.5</text>
<text x="274.47" y="546.65" text-anchor="middle">4</text>
<text x="304.74" y="546.65" text-anchor="middle">4.5</text>
<text x="335" y="546.65" text-anchor="middle">5</text>
<text x="28.95" y="523.01" text-anchor="end">-2</text>
<text x="28.95" y="491.78" text-anchor="end">0</text>
<text x="28.95" y="460.55" text-anchor="end">2</text>
<text x="28.95" y="429.32" text-anchor="end">4</text>
<text x="28.95" y="398.09" text-anchor="end">6</text>
<text x="28.95" y="366.86" text-anchor="end">8</text>
<text x="28.95" y="335.63" text-anchor="end">10</text>
</g>
<text x="33" y="330" font-size="9.88" style="font-weight:normal" fill="#5a5a5a" dy="0.79">&#215;</text>
<text x="39.2" y="330" font-size="7.9" fill="#262626">10</text>
<text x="47.5" y="326.3" font-size="6" fill="#262626">6</text>
<rect x="95.5" y="346.75" width="113.1" height="95.45" fill="#fff"/>
<path d="M123.78 346.75V442.2M152.05 346.75V442.2M180.32 346.75V442.2M95.5 434.86H208.6M95.5 420.17H208.6M95.5 405.49H208.6M95.5 390.8H208.6M95.5 376.12H208.6M95.5 361.43H208.6" stroke="#eeeeee" stroke-width="0.9" fill="none"/>
<path d="M95.5 442.2v-1.1M95.5 346.75v1.1M123.78 442.2v-1.1M123.78 346.75v1.1M152.05 442.2v-1.1M152.05 346.75v1.1M180.32 442.2v-1.1M180.32 346.75v1.1M208.6 442.2v-1.1M208.6 346.75v1.1M95.5 434.86h1.1M208.6 434.86h-1.1M95.5 420.17h1.1M208.6 420.17h-1.1M95.5 405.49h1.1M208.6 405.49h-1.1M95.5 390.8h1.1M208.6 390.8h-1.1M95.5 376.12h1.1M208.6 376.12h-1.1M95.5 361.43h1.1M208.6 361.43h-1.1M95.5 346.75h1.1M208.6 346.75h-1.1" stroke="#8a8a8a" stroke-width="0.8" fill="none"/>
<rect x="95.5" y="346.75" width="113.1" height="95.45" fill="none" stroke="#a3a3a3" stroke-width="1.1"/>
<clipPath id="c6"><rect x="94.6" y="345.85" width="113.7" height="97.25"/></clipPath>
<g clip-path="url(#c6)" fill="none" stroke-width="1.8" stroke-linejoin="round" stroke-linecap="round">
<path d="M95.5 420.32 95.72 416.75 96.16 399.51 96.38 395.94 96.69 397.21 97.01 400.8 98.26 424.27 98.58 427.87 98.89 429.13 99.35 428.22 99.8 425.64 101.61 408.76 102.06 406.18 102.51 405.27 102.84 405.86 103.17 407.55 104.48 418.55 104.81 420.24 105.14 420.83 105.47 420.28 105.8 418.7 107.11 408.43 107.44 406.85 107.77 406.3 108.1 406.76 108.43 408.09 109.74 416.76 110.07 418.09 110.4 418.56 110.77 418.07 111.14 416.69 112.26 409.73 113 406.27 113.37 405.78 113.7 406.29 114.36 409.88 115.34 417.13 115.67 418.57 116 419.07 116.35 418.47 116.7 416.74 118.1 405.47 118.45 403.75 118.8 403.14 119.17 403.81 119.54 405.73 121.03 418.24 121.4 420.16 121.77 420.83 122.1 420.08 122.42 417.94 123.74 403.98 124.07 401.83 124.4 401.08 124.73 401.9 125.05 404.22 126.37 419.38 126.7 421.71 127.03 422.52 127.42 421.62 127.82 419.06 129.4 402.34 129.8 399.78 130.19 398.88 130.56 399.78 130.94 402.34 132.42 419.06 132.79 421.62 133.16 422.52 133.49 421.62 133.82 419.06 135.13 402.34 135.46 399.78 135.79 398.88 136.23 399.72 136.68 402.1 138.44 417.62 138.88 420 139.33 420.83 139.65 420.05 139.98 417.81 141.28 403.22 141.6 400.99 141.93 400.2 142.26 400.83 142.58 402.63 143.9 414.37 144.23 416.16 144.56 416.8 144.95 416.28 145.35 414.8 146.93 405.14 147.33 403.66 147.72 403.14 148.03 403.51 148.33 404.57 149.55 411.47 149.85 412.53 150.16 412.9 150.55 412.57 150.95 411.6 152.53 405.32 152.93 404.36 153.32 404.02 153.65 404.36 153.98 405.32 155.29 411.6 155.62 412.57 155.95 412.9 156.32 412.5 156.69 411.35 158.18 403.82 158.55 402.66 158.92 402.26 159.25 402.7 159.58 403.95 160.89 412.1 161.22 413.35 161.55 413.79 161.94 413.26 162.34 411.76 163.9 402 164.3 400.51 164.69 399.98 165.06 400.46 165.44 401.83 166.94 410.76 167.31 412.13 167.69 412.61 168.01 412.22 168.34 411.09 169.66 403.77 169.99 402.65 170.32 402.26 170.64 402.49 170.97 403.16 172.29 407.52 172.62 408.19 172.95 408.43 173.3 408.19 173.65 407.52 175.04 403.16 175.39 402.49 175.74 402.26 176.07 402.52 176.4 403.27 177.39 407.03 178.05 408.9 178.37 409.16 178.75 409.1 180.6 407.78 181.34 407.54 181.68 408.12 182.01 409.75 183.34 420.39 183.67 422.02 184 422.6 184.32 422.47 184.64 422.1 185.91 419.71 186.23 419.35 186.55 419.22 186.99 419.32 187.44 419.59 189.22 421.41 189.66 421.69 190.11 421.79 190.77 421.48 191.77 420.32 192.43 419.74 192.77 419.66 193.08 419.75 193.72 420.41 194.67 421.73 195.31 422.08 195.98 421.8 197.33 420.45 198 420.17 198.65 420.45 200.27 422.01 200.6 422.08 201 421.99 201.8 421.33 202.99 420.01 203.79 419.66 204.54 419.97 206.02 421.48 206.76 421.79 207.5 421.42 208.99 419.66 209.73 419.29 210.01 419.74 210.58 421.92 210.86 422.38 211.14 421.92 211.71 419.74 211.99 419.29 212.28 419.74 212.98 422.26 213.12 422.38 213.27 422.26 213.97 419.74 214.25 419.29" stroke="#0000ff"/>
</g>
<g font-size="7.5" fill="#181818">
<text x="95.5" y="453.4" text-anchor="middle">0</text>
<text x="123.78" y="453.4" text-anchor="middle">0.1</text>
<text x="152.05" y="453.4" text-anchor="middle">0.2</text>
<text x="180.32" y="453.4" text-anchor="middle">0.3</text>
<text x="208.6" y="453.4" text-anchor="middle">0.4</text>
<text x="92" y="437.56" text-anchor="end">-2</text>
<text x="92" y="422.87" text-anchor="end">0</text>
<text x="92" y="408.19" text-anchor="end">2</text>
<text x="92" y="393.5" text-anchor="end">4</text>
<text x="92" y="378.82" text-anchor="end">6</text>
<text x="92" y="364.13" text-anchor="end">8</text>
<text x="92" y="349.45" text-anchor="end">10</text>
</g>
<text x="95.9" y="344.6" font-size="9.88" style="font-weight:normal" fill="#5a5a5a" dy="0.79">&#215;</text>
<text x="102.5" y="344.6" font-size="7.9" fill="#262626">10</text>
<text x="111.2" y="341.3" font-size="6" fill="#262626">6</text>
<rect x="397.4" y="325.3" width="273.1" height="225" fill="#fff"/>
<path d="M424.71 325.3V550.3M452.02 325.3V550.3M479.33 325.3V550.3M506.64 325.3V550.3M533.95 325.3V550.3M561.26 325.3V550.3M588.57 325.3V550.3M615.88 325.3V550.3M643.19 325.3V550.3M397.4 522.17H670.5M397.4 494.05H670.5M397.4 465.92H670.5M397.4 437.8H670.5M397.4 409.67H670.5M397.4 381.55H670.5M397.4 353.43H670.5" stroke="#eeeeee" stroke-width="0.9" fill="none"/>
<path d="M397.4 550.3v-2.7M397.4 325.3v2.7M424.71 550.3v-2.7M424.71 325.3v2.7M452.02 550.3v-2.7M452.02 325.3v2.7M479.33 550.3v-2.7M479.33 325.3v2.7M506.64 550.3v-2.7M506.64 325.3v2.7M533.95 550.3v-2.7M533.95 325.3v2.7M561.26 550.3v-2.7M561.26 325.3v2.7M588.57 550.3v-2.7M588.57 325.3v2.7M615.88 550.3v-2.7M615.88 325.3v2.7M643.19 550.3v-2.7M643.19 325.3v2.7M670.5 550.3v-2.7M670.5 325.3v2.7M397.4 550.3h2.7M670.5 550.3h-2.7M397.4 522.17h2.7M670.5 522.17h-2.7M397.4 494.05h2.7M670.5 494.05h-2.7M397.4 465.92h2.7M670.5 465.92h-2.7M397.4 437.8h2.7M670.5 437.8h-2.7M397.4 409.67h2.7M670.5 409.67h-2.7M397.4 381.55h2.7M670.5 381.55h-2.7M397.4 353.43h2.7M670.5 353.43h-2.7M397.4 325.3h2.7M670.5 325.3h-2.7" stroke="#8a8a8a" stroke-width="0.8" fill="none"/>
<rect x="397.4" y="325.3" width="273.1" height="225" fill="none" stroke="#a3a3a3" stroke-width="1.1"/>
<clipPath id="c7"><rect x="396.82" y="324.73" width="273.38" height="226.15"/></clipPath>
<g clip-path="url(#c7)" fill="none" stroke-width="1.15" stroke-linejoin="round" stroke-linecap="round">
<path d="M397.4 494.05 397.62 354.83 398 506 398.74 387.88 399.23 455.24 399.79 370.3 400.27 450.46 400.9 349.21 401.59 465.5 401.92 468.46 402.1 496.86 402.52 500.38 402.86 487.18" stroke="#ff0000" stroke-width="1.35"/>
<path d="M402.86 487.18 403.27 499.79 403.68 486.73 404.09 498.9 404.5 483.64 404.91 501.59 405.32 482.99 405.73 501.07 406.14 475.09 406.55 497.41 406.96 474.09 407.37 503.24 407.78 474.43 408.19 501.06 408.6 468.16 409.01 505.47 409.42 468.99 409.83 501.98 410.24 473.84 410.65 504.78 411.06 466.38 411.46 499.11 411.87 469.24 412.28 506.13 412.69 465 413.1 503.32 413.51 468.99 413.92 500.49 414.33 466.32 414.74 505.95 415.15 472.46 415.56 504.39 415.97 465.92 416.38 498.77 416.79 469.15 417.2 505.62 417.61 472.09 418.02 502.44 418.43 467.06 418.84 506.42 419.25 468.8 419.66 502.47 420.07 474.47 420.48 505.24 420.89 467.91 421.3 499.6 421.71 471.16 422.12 505.86 422.53 467.44 422.93 502.83 423.34 471.37 423.75 499.87 424.16 468.87 424.57 504.37 424.98 474.34 425.39 502.56 425.8 468.55 426.21 497.04 426.62 471.34 427.03 501.99 427.44 473.94 427.85 498.44 428.26 470.06 428.67 500.65 429.08 471.64 429.49 496.71 429.9 475.99 430.31 497.8 430.72 471.53 431.13 493.29 431.54 474.02 431.95 497.18 432.36 471.83 432.77 494.83 433.18 474.65 433.59 492.63 434 473.36 434.41 495.05 434.81 476.07 435.22 492.88 435.63 471.83 436.04 488.56 436.45 472.84 436.86 490.7 437.27 474.88 437.68 488 438.09 474.13 438.5 488.41 438.91 479.04 439.32 486.88 439.73 481.39" stroke="#ff0000" stroke-width="1.35"/>
<path d="M439.73 481.39 440.55 502.77 441.64 506 443.28 506.99 446.56 507.27 446.83 507.1 447.38 507.44 447.92 507.1 448.47 507.44 449.02 507.1 449.56 507.44 450.11 507.1 450.65 507.44 451.2 507.1 451.75 507.44 452.29 507.1 452.84 507.44 453.39 507.1 453.93 507.44 454.48 507.1 455.02 507.44 455.57 507.1 456.12 507.44 456.66 507.1 457.21 507.44 457.76 507.1 458.3 507.44 458.85 507.1 459.39 507.44 459.94 507.1 460.49 507.44 461.03 507.1 461.58 507.44 462.12 507.1 462.67 507.44 463.22 507.1 463.76 507.44 464.31 507.1 464.86 507.44 465.4 507.1 465.95 507.44 466.49 507.1 467.04 507.44 467.59 507.1 468.13 507.44 468.68 507.1 469.23 507.44 469.77 507.1 470.32 507.44 470.86 507.1 471.41 507.44 471.96 507.1 472.5 507.44 473.05 507.1 473.59 507.44 474.14 507.1 474.69 507.44 475.23 507.1 475.78 507.44 476.33 507.1 476.87 507.44 477.42 507.1 477.96 507.44 478.51 507.1 479.06 507.44 479.6 507.1 480.15 507.44 480.7 507.1 481.24 507.44 481.79 507.1 482.33 507.44 482.88 507.1 483.43 507.44 483.97 507.1 484.52 507.44 485.07 507.1 485.61 507.44 486.16 507.1 486.7 507.44 487.25 507.1 487.8 507.44 488.34 507.1 488.89 507.44 489.43 507.1 489.98 507.44 490.53 507.1 491.07 507.44 491.62 507.1 492.17 507.44 492.71 507.1 493.26 507.44 493.8 507.1 494.35 507.44 494.9 507.1 495.44 507.44 495.99 507.1 496.54 507.44 497.08 507.1 497.63 507.44 498.17 507.1 498.72 507.44 499.27 507.1 499.81 507.44 500.36 507.1 500.9 507.44 501.45 507.1 502 507.44 502.54 507.1 503.09 507.44 503.64 507.1 504.18 507.44 504.73 507.1 505.27 507.44 505.82 507.1 506.37 507.44 506.91 507.1 507.46 507.44 508.01 507.1 508.55 507.44 509.1 507.1 509.64 507.44 510.19 507.1 510.74 507.44 511.28 507.1 511.83 507.44 512.38 507.1 512.92 507.44 513.47 507.1 514.01 507.44 514.56 507.1 515.11 507.44 515.65 507.1 516.2 507.44 516.74 507.1 517.29 507.44 517.84 507.1 518.38 507.44 518.93 507.1 519.48 507.44 520.02 507.1 520.57 507.44 521.11 507.1 521.66 507.44 522.21 507.1 522.75 507.44 523.3 507.1 523.85 507.44 524.39 507.1 524.94 507.44 525.48 507.1 526.03 507.44 526.58 507.1 527.12 507.44 527.67 507.1 528.21 507.44 528.76 507.1 529.31 507.44 529.85 507.1 530.4 507.44 530.95 507.1 531.49 507.44 532.04 507.1 532.58 507.44 533.13 507.1 533.68 507.44 534.22 507.1 534.77 507.44 535.32 507.1 535.86 507.44 536.41 507.1 536.95 507.44 537.5 507.1 538.05 507.44 538.59 507.1 539.14 507.44 539.69 507.1 540.23 507.44 540.78 507.1 541.32 507.44 541.87 507.1 542.42 507.44 542.96 507.1 543.51 507.44 544.05 507.1 544.6 507.44 545.15 507.1 545.69 507.44 546.24 507.1 546.79 507.44 547.33 507.1 547.88 507.44 548.42 507.1 548.97 507.44 549.52 507.1 550.06 507.44 550.61 507.1 551.16 507.44 551.7 507.1 552.25 507.44 552.79 507.1 553.34 507.44 553.89 507.1 554.43 507.44 554.98 507.1 555.52 507.44 556.07 507.1 556.62 507.44 557.16 507.1 557.71 507.44 558.26 507.1 558.8 507.44 559.35 507.1 559.89 507.44 560.44 507.1 560.99 507.44 561.26 507.27 561.37 491.24 561.59 501.13 561.81 481.39 562.02 500.53 562.24 481.62 562.46 499.92 562.68 482.51 562.9 499.31 563.12 483.41 563.34 498.7 563.55 484.3 563.77 498.13 563.99 485.2 564.21 497.57 564.43 486.09 564.65 497 564.86 487.05 565.08 496.44 565.3 488.04 565.52 495.88 565.74 489.02 565.96 495.59 566.18 490.01 566.39 495.39 566.61 490.99 566.83 495.2 567.05 492.08 567.27 495 567.49 493.21 567.71 494.8 567.92 494.2 568.14 495.03 568.36 494.8 568.58 495.41 568.8 494.96 569.02 494.96 569.23 494.4 569.45 494.4 569.67 493.84 569.89 494.05 570.27 493.88 570.82 494.22 571.36 493.88 571.91 494.22 572.46 493.88 573 494.22 573.55 493.88 574.1 494.22 574.64 493.88 575.19 494.22 575.73 493.88 576.28 494.22 576.83 493.88 577.37 494.22 577.92 493.88 578.47 494.22 579.01 493.88 579.56 494.22 580.1 493.88 580.65 494.22 581.2 493.88 581.74 494.22 582.29 493.88 582.83 494.22 583.38 493.88 583.93 494.22 584.47 493.88 585.02 494.22 585.57 493.88 586.11 494.22 586.66 493.88 587.2 494.22 587.75 493.88 588.3 494.22 588.84 493.88 589.39 494.22 589.94 493.88 590.48 494.22 591.03 493.88 591.57 494.22 592.12 493.88 592.67 494.22 593.21 493.88 593.76 494.22 594.31 493.67 594.85 494.43 595.4 493.67 595.94 494.43 596.49 493.67 597.04 494.43 597.58 493.67 598.13 494.43 598.67 493.67 599.22 494.43 599.77 493.67 600.31 494.43 600.86 493.67 601.41 494.43 601.95 493.67 602.5 494.43 603.04 493.67 603.59 494.43 604.14 493.67 604.68 494.43 605.23 493.67 605.78 494.43 606.32 493.67 606.87 494.43 607.41 493.67 607.96 494.43 608.51 493.67 609.05 494.43 609.6 493.67 610.14 494.43 610.69 493.67 611.24 494.43 611.78 493.67 612.33 494.43 612.88 493.67 613.42 494.43 613.97 493.67 614.51 494.43 615.06 493.67 615.61 494.43 616.15 493.67 616.7 494.43 617.25 493.67 617.79 494.43 618.34 493.67 618.88 494.43 619.43 493.67 619.98 494.43 620.52 493.67 621.07 494.43 621.62 493.67 622.16 494.43 622.71 493.67 623.25 494.43 623.8 493.67 624.35 494.43 624.89 494.05 625 524.42 625.27 518.66 625.44 519 628.15 517.03 630.87 515.39 633.58 514.02 636.84 512.68 640.1 511.61 643.35 510.75 650.41 509.43 659.1 508.47 670.5 507.82" stroke="#ff0000" stroke-width="1.35"/>
<path d="M397.4 494.05 397.73 425.14 398.11 510.92 398.87 452.85 399.37 483.64 399.86 455.66 400.4 477.6 400.9 445.53 401.39 487.16 401.93 428.94 402.53 494.33 403.14 425.14 403.68 484.77 404.28 426.55 404.83 471.69 405.37 426.55 405.92 465.64 406.41 450.46 407.12 501.5 407.56 489.69 408.16 499.11 408.71 490.39 409.2 500.24 409.72 490.96 410.24 500.24 410.76 492.08 411.33 499.11 411.87 489.69 412.37 499.11 412.97 484.91 413.46 499.11 414.11 481.39 414.55 496.72 415.26 478.58 415.7 491.94 416.3 471.83 416.79 482.38 417.42 463.53 417.88 477.6 418.43 465.22 419.14 491.38 419.79 499.25 420.01 495.92 420.23 498.92 420.45 494.05 420.67 498.17 420.89 492.17 421.11 497.42 421.32 490.3 421.54 496.41 421.76 487.3 421.98 494.61 422.2 483.92 422.42 492.81 422.63 480.55 422.85 491.01 423.07 477.17 423.29 489.21 423.51 473.8 423.73 487.41 423.95 470.42 424.16 485.61 424.38 466.85 424.6 481.67 424.82 463.08 425.04 477.74 425.26 459.32 425.47 473.8 425.69 455.55 425.91 469.86 426.13 451.78 426.35 465.92 426.57 457.92 426.79 483.17 427 473.97 427.22 498.61 427.44 489.13 427.66 501.31 427.88 497.89 428.1 501.56 428.31 496.89 428.53 501.46 428.75 495.89 428.97 501.36 429.19 494.89 429.41 501.26 429.63 493.89 429.84 501.16 430.06 492.89 430.28 500.89 430.5 492.36 430.72 500.14 430.94 491.99 431.16 499.39 431.37 491.61 431.59 498.64 431.81 491.24 432.03 496.16 432.25 485.5 432.47 491.94 432.68 479.76 432.9 487.72 433.12 474.02 433.34 483.5 433.56 468.29 433.78 479.28 434 462.55 434.21 473.87 434.43 454.67 434.65 467.25 434.87 446.8 435.09 465.38 435.31 450.59 435.52 471.44 435.74 457.21 435.96 480.13 436.18 467.33 436.4 489.69 436.62 477.46 436.84 497.6 437.05 488.43 437.27 500.54 437.49 498.23 437.71 501.47 437.93 497.93 438.15 501.2 438.37 497.62 438.58 500.93 438.8 497.32 439.02 500.65 439.24 497.01 439.46 500.38 439.68 495.51 439.89 498.69 440.11 492.81 440.33 497 440.55 490.11 440.77 495.32 440.99 487.41 441.21 494.61 441.42 489.44 441.64 496.86 441.86 493.54 442.08 499.45 442.3 498.16 442.52 502.04 442.95 503.68 443.82 504.76 444.68 505.49 445.76 506.07 446.84 506.43 449.43 506.82 452.29 506.87 452.84 507.1 453.39 506.87 453.93 507.1 454.48 506.87 455.02 507.1 455.57 506.87 456.12 507.1 456.66 506.87 457.21 507.1 457.76 506.87 458.3 507.1 458.85 506.87 459.39 507.1 459.94 506.87 460.49 507.1 461.03 506.87 461.58 507.1 462.12 506.87 462.67 507.1 463.22 506.87 463.76 507.1 464.31 506.87 464.86 507.1 465.4 506.87 465.95 507.1 466.49 506.87 467.04 507.1 467.59 506.87 468.13 507.1 468.68 506.87 469.23 507.1 469.77 506.87 470.32 507.1 470.86 506.87 471.41 507.1 471.96 506.87 472.5 507.1 473.05 506.87 473.59 507.1 474.14 506.87 474.69 507.1 475.23 506.87 475.78 507.1 476.33 506.87 476.87 507.1 477.42 506.87 477.96 507.1 478.51 506.87 479.06 507.1 479.6 506.87 480.15 507.1 480.7 506.87 481.24 507.1 481.79 506.87 482.33 507.1 482.88 506.87 483.43 507.1 483.97 506.87 484.52 507.1 485.07 506.87 485.61 507.1 486.16 506.87 486.7 507.1 487.25 506.87 487.8 507.1 488.34 506.87 488.89 507.1 489.43 506.87 489.98 507.1 490.53 506.87 491.07 507.1 491.62 506.87 492.17 507.1 492.71 506.87 493.26 507.1 493.8 506.87 494.35 507.1 494.9 506.87 495.44 507.1 495.99 506.87 496.54 507.1 497.08 506.87 497.63 507.1 498.17 506.87 498.72 507.1 499.27 506.87 499.81 507.1 500.36 506.87 500.9 507.1 501.45 506.87 502 507.1 502.54 506.87 503.09 507.1 503.64 506.87 504.18 507.1 504.73 506.87 505.27 507.1 505.82 506.87 506.37 507.1 506.91 506.87 507.46 507.1 508.01 506.87 508.55 507.1 509.1 506.87 509.64 507.1 510.19 506.87 510.74 507.1 511.28 506.87 511.83 507.1 512.38 506.87 512.92 507.1 513.47 506.87 514.01 507.1 514.56 506.87 515.11 507.1 515.65 506.87 516.2 507.1 516.74 506.87 517.29 507.1 517.84 506.87 518.38 507.1 518.93 506.87 519.48 507.1 520.02 506.87 520.57 507.1 521.11 506.87 521.66 507.1 522.21 506.87 522.75 507.1 523.3 506.87 523.85 507.1 524.39 506.87 524.94 507.1 525.48 506.87 526.03 507.1 526.58 506.87 527.12 507.1 527.67 506.87 528.21 507.1 528.76 506.87 529.31 507.1 529.85 506.87 530.4 507.1 530.95 506.87 531.49 507.1 532.04 506.87 532.58 507.1 533.13 506.87 533.68 507.1 534.22 506.87 534.77 507.1 535.32 506.87 535.86 507.1 536.41 506.87 536.95 507.1 537.5 506.87 538.05 507.1 538.59 506.87 539.14 507.1 539.69 506.87 540.23 507.1 540.78 506.87 541.32 507.1 541.87 506.87 542.42 507.1 542.96 506.87 543.51 507.1 544.05 506.87 544.6 507.1 545.15 506.87 545.69 507.1 546.24 506.87 546.79 507.1 547.33 506.87 547.88 507.1 548.42 506.87 548.97 507.1 549.52 506.87 550.06 507.1 550.61 506.87 551.16 507.1 551.7 506.87 552.25 507.1 552.79 506.87 553.34 507.1 553.89 506.87 554.43 507.1 554.98 506.87 555.52 507.1 556.07 506.87 556.62 507.1 557.16 506.87 557.71 507.1 558.26 506.87 558.8 507.1 559.35 506.87 559.89 507.1 560.44 506.87 560.99 507.1 561.26 506.99 561.37 492.64 561.59 496.46 561.81 487.3 562.02 496.51 562.24 487.4 562.46 496.56 562.68 487.81 562.9 496.61 563.12 488.21 563.34 496.66 563.55 488.61 563.77 496.71 563.99 489.02 564.21 496.76 564.43 489.42 564.65 496.81 564.86 489.83 565.08 496.86 565.3 490.23 565.52 496.61 565.74 490.64 565.96 496.35 566.18 491.04 566.39 496.09 566.61 491.45 566.83 495.83 567.05 492.07 567.27 495.61 567.49 494.22 567.71 495.43 567.92 494.63 568.14 495.34 568.36 494.46 568.58 495.25 568.8 494.3 569.02 495.01 569.23 494.13 569.45 494.33 569.67 493.58 569.89 494.18 570.27 493.88 570.82 494.16 571.36 493.88 571.91 494.16 572.46 493.88 573 494.16 573.55 493.88 574.1 494.16 574.64 493.88 575.19 494.16 575.73 493.88 576.28 494.16 576.83 493.88 577.37 494.16 577.92 493.88 578.47 494.16 579.01 493.88 579.56 494.16 580.1 493.88 580.65 494.16 581.2 493.88 581.74 494.16 582.29 493.88 582.83 494.16 583.38 493.88 583.93 494.16 584.47 493.88 585.02 494.16 585.57 493.88 586.11 494.16 586.66 493.88 587.2 494.16 587.75 493.88 588.3 494.16 588.84 493.88 589.39 494.16 589.94 493.88 590.48 494.16 591.03 493.88 591.57 494.16 592.12 493.88 592.67 494.16 593.21 493.88 593.76 494.16 594.31 493.88 594.85 494.16 595.4 493.88 595.94 494.16 596.49 493.88 597.04 494.16 597.58 493.88 598.13 494.16 598.67 493.88 599.22 494.16 599.77 493.88 600.31 494.16 600.86 493.88 601.41 494.16 601.95 493.88 602.5 494.16 603.04 493.88 603.59 494.16 604.14 493.88 604.68 494.16 605.23 493.88 605.78 494.16 606.32 493.88 606.87 494.16 607.41 493.88 607.96 494.16 608.51 493.88 609.05 494.16 609.6 493.88 610.14 494.16 610.69 493.88 611.24 494.16 611.78 493.88 612.33 494.16 612.88 493.88 613.42 494.16 613.97 493.88 614.51 494.16 615.06 493.88 615.61 494.16 616.15 493.88 616.7 494.16 617.25 493.88 617.79 494.16 618.34 493.88 618.88 494.16 619.43 493.88 619.98 494.16 620.52 493.88 621.07 494.16 621.62 493.88 622.16 494.16 622.71 493.88 623.25 494.16 623.8 493.88 624.35 494.16 624.62 494.05 624.73 523.02 625.06 519.64 625.27 519.95 628.54 516.97 632.36 514.31 635.63 512.57 639.44 511.02 642.17 510.15 645.44 509.33 651.97 508.19 660.15 507.37 670.5 506.85" stroke="#ffff00" stroke-width="1.3"/>
<path d="M397.4 494.33 397.57 447.64 398.06 511.21 398.75 465.5 399.26 495.32 399.77 467.47 400.28 490.96 400.85 466.49 401.36 491.94 401.9 461.42 402.47 495.32 402.98 457.49 403.49 498.55 404.1 453.27 404.68 498.55 405.18 453.27 405.87 495.32 406.37 455.8 406.88 487.58 407.49 461.42 407.96 480.13 408.57 463.11 409.08 480.13 409.65 459.74 410.16 481.82 410.77 455.38 411.34 479.57 411.85 459.74 412.36 471.55 412.9 459.74 413.41 472.96 413.98 469.86 414.5 498.69 414.99 492.22 415.68 497.14 416.19 493.07 416.68 497.71 417.2 494.05 417.7 497.71 418.32 493.07 418.89 497.14 419.47 492.36 419.68 498.27 419.9 492.36 420.12 498.27 420.34 492.36 420.56 498.27 420.78 492.36 421 498.27 421.21 492.36 421.43 498.27 421.65 488.6 421.87 493.17 422.09 481.35 422.31 487.8 422.53 474.1 422.74 482.42 422.96 466.85 423.18 477.05 423.4 459.03 423.67 469.44 424 463.82 424.38 470.85 424.82 465.92 425.2 468.03 425.58 462.41 426.02 469.44 426.4 466.63 426.79 472.25 427.11 471.41 427.55 488.26 427.77 486.88 427.99 495.12 428.31 494.05 428.53 498.55 428.75 494.05 428.97 498.55 429.19 494.05 429.41 498.55 429.63 494.05 429.84 498.55 430.06 494.05 430.28 498.55 430.5 492.36 430.72 498.55 430.94 492.36 431.16 498.55 431.37 490.84 431.59 493.91 431.81 485.3 432.03 489.97 432.25 479.76 432.47 486.03 432.68 474.21 432.9 482.1 433.12 468.67 433.34 478.16 433.45 464.24 433.78 471.55 434.16 466.63 434.54 472.96 434.98 467.33 435.36 470.14 435.8 461.14 436.18 470.14 436.56 466.63 436.94 471.55 437.27 468.74 437.6 469.44 438.04 487.22 438.26 484.21 438.47 493.05 438.69 492.64 438.91 498.87 440.28 498.27 441.1 499.67 442.3 496.44 442.73 500.38 443.55 499.11 444.37 501.08 446.56 502.77 448.74 505.02 450.65 505.86 453.11 506.42 457.48 506.71 457.76 506.54 458.3 506.87 458.85 506.54 459.39 506.87 459.94 506.54 460.49 506.87 461.03 506.54 461.58 506.87 462.12 506.54 462.67 506.87 463.22 506.54 463.76 506.87 464.31 506.54 464.86 506.87 465.4 506.54 465.95 506.87 466.49 506.54 467.04 506.87 467.59 506.54 468.13 506.87 468.68 506.54 469.23 506.87 469.77 506.54 470.32 506.87 470.86 506.54 471.41 506.87 471.96 506.54 472.5 506.87 473.05 506.54 473.59 506.87 474.14 506.54 474.69 506.87 475.23 506.54 475.78 506.87 476.33 506.54 476.87 506.87 477.42 506.54 477.96 506.87 478.51 506.54 479.06 506.87 479.6 506.54 480.15 506.87 480.7 506.54 481.24 506.87 481.79 506.54 482.33 506.87 482.88 506.54 483.43 506.87 483.97 506.54 484.52 506.87 485.07 506.54 485.61 506.87 486.16 506.54 486.7 506.87 487.25 506.54 487.8 506.87 488.34 506.54 488.89 506.87 489.43 506.54 489.98 506.87 490.53 506.54 491.07 506.87 491.62 506.54 492.17 506.87 492.71 506.54 493.26 506.87 493.8 506.54 494.35 506.87 494.9 506.54 495.44 506.87 495.99 506.54 496.54 506.87 497.08 506.54 497.63 506.87 498.17 506.54 498.72 506.87 499.27 506.54 499.81 506.87 500.36 506.54 500.9 506.87 501.45 506.54 502 506.87 502.54 506.54 503.09 506.87 503.64 506.54 504.18 506.87 504.73 506.54 505.27 506.87 505.82 506.54 506.37 506.87 506.91 506.54 507.46 506.87 508.01 506.54 508.55 506.87 509.1 506.54 509.64 506.87 510.19 506.54 510.74 506.87 511.28 506.54 511.83 506.87 512.38 506.54 512.92 506.87 513.47 506.54 514.01 506.87 514.56 506.54 515.11 506.87 515.65 506.54 516.2 506.87 516.74 506.54 517.29 506.87 517.84 506.54 518.38 506.87 518.93 506.54 519.48 506.87 520.02 506.54 520.57 506.87 521.11 506.54 521.66 506.87 522.21 506.54 522.75 506.87 523.3 506.54 523.85 506.87 524.39 506.54 524.94 506.87 525.48 506.54 526.03 506.87 526.58 506.54 527.12 506.87 527.67 506.54 528.21 506.87 528.76 506.54 529.31 506.87 529.85 506.54 530.4 506.87 530.95 506.54 531.49 506.87 532.04 506.54 532.58 506.87 533.13 506.54 533.68 506.87 534.22 506.54 534.77 506.87 535.32 506.54 535.86 506.87 536.41 506.54 536.95 506.87 537.5 506.54 538.05 506.87 538.59 506.54 539.14 506.87 539.69 506.54 540.23 506.87 540.78 506.54 541.32 506.87 541.87 506.54 542.42 506.87 542.96 506.54 543.51 506.87 544.05 506.54 544.6 506.87 545.15 506.54 545.69 506.87 546.24 506.54 546.79 506.87 547.33 506.54 547.88 506.87 548.42 506.54 548.97 506.87 549.52 506.54 550.06 506.87 550.61 506.54 551.16 506.87 551.7 506.54 552.25 506.87 552.79 506.54 553.34 506.87 553.89 506.54 554.43 506.87 554.98 506.54 555.52 506.87 556.07 506.54 556.62 506.87 557.16 506.54 557.71 506.87 558.26 506.54 558.8 506.87 559.35 506.54 559.89 506.87 560.44 506.54 560.99 506.87 561.26 506.71 561.37 492.64 561.59 495.73 561.81 489.77 562.02 495.7 562.24 489.86 562.46 495.67 562.68 489.95 562.9 495.64 563.12 490.04 563.34 495.61 563.55 490.17 563.77 495.58 563.99 490.39 564.21 495.55 564.43 490.62 564.65 495.52 564.86 490.84 565.08 495.49 565.3 491.07 565.52 495.46 565.74 491.33 565.96 495.51 566.18 491.71 566.39 495.59 566.61 492.08 566.83 495.66 567.05 492.46 567.27 495.74 567.49 493.77 567.71 495.96 567.92 495.51 568.14 496.02 568.36 495.74 568.58 496.02 569.02 495.82 570.27 493.74 570.82 494.08 571.36 493.74 571.91 494.08 572.46 493.74 573 494.08 573.55 493.74 574.1 494.08 574.64 493.74 575.19 494.08 575.73 493.74 576.28 494.08 576.83 493.74 577.37 494.08 577.92 493.74 578.47 494.08 579.01 493.74 579.56 494.08 580.1 493.74 580.65 494.08 581.2 493.74 581.74 494.08 582.29 493.74 582.83 494.08 583.38 493.74 583.93 494.08 584.47 493.74 585.02 494.08 585.57 493.74 586.11 494.08 586.66 493.74 587.2 494.08 587.75 493.74 588.3 494.08 588.84 493.74 589.39 494.08 589.94 493.74 590.48 494.08 591.03 493.74 591.57 494.08 592.12 493.74 592.67 494.08 593.21 493.74 593.76 494.08 594.31 493.74 594.85 494.08 595.4 493.74 595.94 494.08 596.49 493.74 597.04 494.08 597.58 493.74 598.13 494.08 598.67 493.74 599.22 494.08 599.77 493.74 600.31 494.08 600.86 493.74 601.41 494.08 601.95 493.74 602.5 494.08 603.04 493.74 603.59 494.08 604.14 493.74 604.68 494.08 605.23 493.74 605.78 494.08 606.32 493.74 606.87 494.08 607.41 493.74 607.96 494.08 608.51 493.74 609.05 494.08 609.6 493.74 610.14 494.08 610.69 493.74 611.24 494.08 611.78 493.74 612.33 494.08 612.88 493.74 613.42 494.08 613.97 493.74 614.51 494.08 615.06 493.74 615.61 494.08 616.15 493.74 616.7 494.08 617.25 493.74 617.79 494.08 618.34 493.74 618.88 494.08 619.43 493.74 619.98 494.08 620.52 493.74 621.07 494.08 621.62 493.74 622.16 494.08 622.71 493.74 623.25 494.08 623.8 493.74 624.35 494.08 624.84 493.91 624.95 522.6 625.27 518.66 625.49 518.78 628.79 516.13 632.08 514.05 635.37 512.42 638.67 511.13 641.41 510.28 644.7 509.45 651.84 508.22 660.07 507.41 670.5 506.88" stroke="#0000ff"/>
</g>
<g font-size="7.5" fill="#181818">
<text x="397.4" y="561.1" text-anchor="middle">0</text>
<text x="424.71" y="561.1" text-anchor="middle">0.5</text>
<text x="452.02" y="561.1" text-anchor="middle">1</text>
<text x="479.33" y="561.1" text-anchor="middle">1.5</text>
<text x="506.64" y="561.1" text-anchor="middle">2</text>
<text x="533.95" y="561.1" text-anchor="middle">2.5</text>
<text x="561.26" y="561.1" text-anchor="middle">3</text>
<text x="588.57" y="561.1" text-anchor="middle">3.5</text>
<text x="615.88" y="561.1" text-anchor="middle">4</text>
<text x="643.19" y="561.1" text-anchor="middle">4.5</text>
<text x="670.5" y="561.1" text-anchor="middle">5</text>
<text x="393.9" y="553" text-anchor="end">-4</text>
<text x="393.9" y="524.88" text-anchor="end">-2</text>
<text x="393.9" y="496.75" text-anchor="end">0</text>
<text x="393.9" y="468.62" text-anchor="end">2</text>
<text x="393.9" y="440.5" text-anchor="end">4</text>
<text x="393.9" y="412.37" text-anchor="end">6</text>
<text x="393.9" y="384.25" text-anchor="end">8</text>
<text x="393.9" y="356.12" text-anchor="end">10</text>
<text x="393.9" y="328" text-anchor="end">12</text>
</g>
<text x="398" y="322.9" font-size="9.88" style="font-weight:normal" fill="#5a5a5a" dy="0.79">&#215;</text>
<text x="403.9" y="322.9" font-size="7.9" fill="#262626">10</text>
<text x="412.6" y="320.1" font-size="6" fill="#262626">6</text>
<rect x="454.5" y="337.4" width="106" height="115.1" fill="#fff"/>
<path d="M489.83 337.4V452.5M525.17 337.4V452.5M454.5 423.73H560.5M454.5 394.95H560.5M454.5 366.17H560.5" stroke="#eeeeee" stroke-width="0.9" fill="none"/>
<path d="M454.5 452.5v-1.1M454.5 337.4v1.1M489.83 452.5v-1.1M489.83 337.4v1.1M525.17 452.5v-1.1M525.17 337.4v1.1M560.5 452.5v-1.1M560.5 337.4v1.1M454.5 452.5h1.1M560.5 452.5h-1.1M454.5 423.73h1.1M560.5 423.73h-1.1M454.5 394.95h1.1M560.5 394.95h-1.1M454.5 366.17h1.1M560.5 366.17h-1.1M454.5 337.4h1.1M560.5 337.4h-1.1" stroke="#8a8a8a" stroke-width="0.8" fill="none"/>
<rect x="454.5" y="337.4" width="106" height="115.1" fill="none" stroke="#a3a3a3" stroke-width="1.1"/>
<clipPath id="c8"><rect x="453.75" y="336.65" width="106.45" height="116.6"/></clipPath>
<g clip-path="url(#c8)" fill="none" stroke-width="1.5" stroke-linejoin="round" stroke-linecap="round">
<path d="M454.5 423.73 454.68 421.56 454.85 415.38 455.56 375.09 455.74 368.92 455.91 366.75 456.22 369.11 456.53 375.81 457.77 419.56 458.08 426.26 458.39 428.62 458.99 426.78 459.59 421.54 461.39 395.2 461.99 387.35 462.59 382.11 463.19 380.27 463.59 381.32 464.37 388.78 465.55 403.8 465.94 406.79 466.34 407.84 466.79 406.52 467.24 402.75 469.04 378.17 469.49 374.4 469.94 373.08 470.33 374.33 470.73 377.88 472.3 401.08 472.69 404.64 473.09 405.88 473.59 404.31 474.09 399.82 476.11 370.52 476.61 366.03 477.11 364.45 477.68 366.26 478.24 371.42 479.94 397.35 480.51 405.07 481.07 410.23 481.64 412.04 483.72 413.25 484.89 424.88 485.58 425.09 487.3 426.26 487.64 426.31 488.09 426.15 488.99 424.98 490.35 422.63 490.8 422.16 491.25 422 491.69 422.16 492.13 422.63 493.9 425.69 494.34 426.16 494.78 426.33 495.22 426.16 495.66 425.69 497.43 422.63 497.87 422.16 498.31 422 498.75 422.17 499.2 422.64 500.96 425.74 501.41 426.22 501.85 426.38 502.29 426.14 502.73 425.45 504.5 420.92 504.94 420.23 505.38 419.98 505.82 420.23 506.26 420.93 508.03 425.5 508.47 426.2 508.91 426.44 509.36 426.12 509.8 425.2 511.56 419.21 512 418.29 512.45 417.97 512.89 418.29 513.33 419.22 515.1 425.25 515.54 426.17 515.98 426.5 516.42 426.09 516.86 424.91 518.63 417.25 519.07 416.08 519.51 415.67 519.96 416.08 520.4 417.26 522.16 424.96 522.61 426.14 523.05 426.56 523.49 426.12 523.93 424.88 525.7 416.77 526.14 415.53 526.58 415.09 527.02 415.53 527.46 416.78 529.23 424.93 529.67 426.18 530.11 426.61 530.56 426.12 531 424.72 532.76 415.55 533.21 414.15 533.65 413.65 534.09 414.15 534.53 415.56 536.3 424.77 536.74 426.18 537.18 426.67 537.62 426.18 538.06 424.77 539.83 415.56 540.27 414.15 540.71 413.65 541.15 414.15 541.6 415.57 543.36 424.81 543.81 426.23 544.25 426.73 544.69 426.19 545.13 424.65 546.9 414.59 547.34 413.04 547.78 412.5 548.22 413.05 548.66 414.59 550.43 424.69 550.87 426.24 551.31 426.79 551.75 426.28 552.2 424.82 553.96 415.33 554.4 413.88 554.85 413.37 555.29 413.88 555.73 415.34 557.5 424.87 557.94 426.33 558.38 426.84 558.82 426.29 559.26 424.7 561.03 414.36 561.47 412.77 561.91 412.21 562.36 412.77 562.8 414.36 564.12 422.36 564.56 424.74 565 426.33 565.45 426.89 565.89 426.38 566.33 424.91 567.21 420.13" stroke="#ff0000"/>
<path d="M454.5 423.73 454.76 422.65 455.03 419.6 456.09 399.66 456.36 396.6 456.62 395.53 456.93 396.86 457.24 400.67 458.48 425.49 458.78 429.29 459.09 430.63 459.71 429.73 460.33 427.15 462.8 410.34 463.42 407.77 464.04 406.86 464.44 407.34 464.83 408.71 466.43 417.62 466.82 418.99 467.22 419.47 467.62 419.03 468.01 417.79 469.61 409.69 470 408.45 470.4 408.01 470.84 408.36 471.28 409.33 472.61 414.22 473.05 415.68 473.49 416.65 473.93 416.99 474.33 416.49 475.13 412.94 476.32 405.79 476.72 404.37 477.11 403.87 477.51 404.52 477.91 406.36 479.5 418.41 479.9 420.26 480.29 420.91 480.74 420 481.18 417.42 482.94 400.57 483.38 397.99 483.83 397.08 484.31 398.1 484.8 401 486.74 419.92 487.23 422.82 487.71 423.84 488.2 422.76 488.69 419.69 490.63 399.67 491.11 396.6 491.6 395.53 492.04 396.45 492.48 399.1 494.25 416.35 494.69 419 495.13 419.93 495.62 419.02 496.11 416.44 497.56 403.45 498.05 399.59 498.53 397.01 499.02 396.1 499.46 396.8 499.9 398.81 500.35 401.8 501.67 411.87 502.11 413.87 502.55 414.57 503 413.87 503.44 411.87 505.2 398.81 505.64 396.8 506.09 396.1 506.53 396.71 506.97 398.44 508.3 407.16 508.74 409.76 509.18 411.49 509.62 412.1 510.02 411.86 510.42 411.19 511.61 407.8 512.4 406.12 512.8 405.88 513.37 406.68 513.95 408.94 514.52 412.33 516.25 423.72 516.82 425.98 517.39 426.78 517.75 426.59 518.1 426.07 519.51 422.65 519.87 422.12 520.22 421.94 520.71 422.09 521.19 422.51 523.13 425.23 523.62 425.65 524.11 425.8 524.55 425.66 524.99 425.27 526.32 423.33 527.2 422.36 527.64 422.23 528.04 422.38 528.83 423.47 530.02 425.67 530.42 426.1 530.82 426.26 531.24 426.11 531.66 425.7 533.34 423.02 533.76 422.6 534.18 422.46 534.6 422.6 535.02 423.02 536.69 425.7 537.11 426.11 537.53 426.26 537.96 426.13 538.38 425.77 540.08 423.41 540.5 423.05 540.93 422.92 541.38 423.03 541.84 423.34 543.68 425.38 544.14 425.69 544.6 425.8 545.04 425.65 545.48 425.23 547.25 422.51 547.69 422.09 548.13 421.94 548.53 422.09 548.93 422.51 550.52 425.23 550.92 425.65 551.31 425.8 551.8 425.58 552.28 424.95 554.23 420.84 554.71 420.21 555.2 419.98 555.6 420.21 556 420.84 557.59 424.95 557.98 425.58 558.38 425.8 558.91 425.52 559.44 424.73 561.56 419.61 562.09 418.82 562.62 418.55 562.97 418.78 563.33 419.46 564.39 422.88 565.09 424.58 565.45 424.82 566.02 424.54 566.6 423.73 567.17 422.53" stroke="#ffff00"/>
<path d="M454.5 423.84 454.77 421.04 455.32 407.53 455.6 404.73 455.99 405.72 456.38 408.54 457.95 426.94 458.35 429.76 458.74 430.75 459.31 430.03 459.87 428.01 462.13 414.78 462.7 412.75 463.26 412.04 463.67 412.51 464.08 413.83 465.73 422.46 466.14 423.78 466.55 424.24 466.96 423.81 467.37 422.57 469.01 414.52 469.42 413.28 469.83 412.85 470.25 413.21 470.66 414.26 472.3 421.05 472.71 422.09 473.12 422.46 473.58 422.08 474.05 420.99 475.44 415.54 475.9 413.91 476.37 412.83 476.83 412.45 477.24 412.84 478.06 415.66 479.3 421.34 479.71 422.47 480.12 422.86 480.55 422.39 480.99 421.03 482.74 412.2 483.18 410.85 483.61 410.37 484.08 410.9 484.54 412.4 486.4 422.21 486.86 423.72 487.32 424.24 487.74 423.65 488.15 421.98 489.79 411.03 490.2 409.35 490.61 408.76 491.02 409.4 491.43 411.22 493.08 423.11 493.49 424.93 493.9 425.57 494.39 424.86 494.89 422.85 496.86 409.75 497.36 407.74 497.85 407.04 498.32 407.74 498.78 409.75 500.64 422.85 501.1 424.86 501.56 425.57 501.97 424.86 502.39 422.85 504.03 409.75 504.44 407.74 504.85 407.04 505.4 407.69 505.95 409.56 508.16 421.72 508.71 423.59 509.27 424.24 509.67 423.63 510.08 421.87 511.7 410.44 512.11 408.69 512.52 408.07 512.93 408.57 513.34 409.98 514.98 419.17 515.39 420.58 515.8 421.08 516.3 420.67 516.79 419.51 518.77 411.94 519.27 410.78 519.76 410.37 520.14 410.66 520.52 411.49 522.04 416.91 522.42 417.74 522.8 418.03 523.29 417.76 523.79 417.01 525.77 412.08 526.26 411.33 526.76 411.06 527.17 411.33 527.58 412.08 529.22 417.01 529.63 417.76 530.04 418.03 530.51 417.71 530.97 416.81 532.83 410.9 533.29 410 533.75 409.68 534.16 410.03 534.57 411.01 536.22 417.39 536.63 418.37 537.04 418.72 537.53 418.31 538.02 417.13 539.98 409.48 540.47 408.31 540.96 407.9 541.43 408.28 541.9 409.35 543.77 416.35 544.24 417.42 544.71 417.8 545.12 417.49 545.53 416.61 546.76 412.19 547.58 409.99 547.99 409.68 548.4 409.87 549.22 411.17 550.46 413.81 550.87 414.33 551.28 414.52 551.72 414.33 552.15 413.81 553.9 410.39 554.34 409.87 554.78 409.68 555.19 409.89 555.6 410.48 556.83 413.42 557.65 414.89 558.06 415.09 558.53 415.04 561.31 413.87 561.77 413.83 562.19 414.28 563.02 417.47 564.26 423.9 564.68 425.18 565.09 425.62 565.49 425.52 565.89 425.24 567.48 423.36" stroke="#0000ff"/>
</g>
<g font-size="7.4" fill="#181818">
<text x="454.5" y="463.5" text-anchor="middle">0</text>
<text x="489.83" y="463.5" text-anchor="middle">0.1</text>
<text x="525.17" y="463.5" text-anchor="middle">0.2</text>
<text x="560.5" y="463.5" text-anchor="middle">0.3</text>
<text x="451" y="455.16" text-anchor="end">-5</text>
<text x="451" y="426.39" text-anchor="end">0</text>
<text x="451" y="397.61" text-anchor="end">5</text>
<text x="451" y="368.84" text-anchor="end">10</text>
<text x="451" y="340.06" text-anchor="end">15</text>
</g>
<text x="454.8" y="335" font-size="9.25" style="font-weight:normal" fill="#5a5a5a" dy="0.74">&#215;</text>
<text x="460.9" y="335" font-size="7.4" fill="#262626">10</text>
<text x="469.2" y="332.5" font-size="5.62" fill="#262626">6</text>
<rect x="568.5" y="336.6" width="87.1" height="28.4" fill="#fff" stroke="#a0a0a0" stroke-width="0.8"/>
<g stroke-width="1.5"><path d="M571.2 341.7H586.7" stroke="#ff0000"/><path d="M571.2 350.7H586.7" stroke="#ffff00"/><path d="M571.2 359.6H586.7" stroke="#0000ff"/></g>
<g font-size="6.85" fill="#000"><text x="588.6" y="344.6">Without PSO &amp; SSA</text><text x="588.6" y="353.5">With PSO</text><text x="588.6" y="362.4">With SSA</text></g>
<g fill="#262626">
<text x="170" y="270.7" font-size="8.2" text-anchor="middle">Time (seconds)</text>
<text transform="translate(14.3 133.7) rotate(-90)" font-size="8.2" text-anchor="middle">Active Power (W)</text>
<text x="531.2" y="226.6" font-size="6.4" text-anchor="middle">Time (seconds)</text>
<text transform="translate(375.5 113.8) rotate(-90)" font-size="6.0" text-anchor="middle">Active Power (W)</text>
<text x="169.6" y="563.6" font-size="8.9" text-anchor="middle">Time (seconds)</text>
<text transform="translate(14.9 433.2) rotate(-90)" font-size="9.3" text-anchor="middle">Active Power (W)</text>
<text x="533.9" y="575.9" font-size="8.25" text-anchor="middle">Time (seconds)</text>
<text x="0" y="0" transform="translate(382.4 438.5) rotate(-90)" font-size="8.2" text-anchor="middle">Active Power (W)</text>
</g>
<g text-anchor="middle">
<text x="174.8" y="298.3" style="font-family:'Liberation Serif',serif;font-weight:bold;font-size:14px" fill="#1a1a1a">(a)</text>
<text x="527.3" y="298.3" style="font-family:'Liberation Serif',serif;font-weight:bold;font-size:14px" fill="#1a1a1a">(b)</text>
<text x="175" y="602" style="font-family:'Liberation Serif',serif;font-weight:bold;font-size:14px" fill="#1a1a1a">(c)</text>
<text x="524.5" y="601.5" style="font-family:'Liberation Serif',serif;font-weight:normal;font-size:15px" fill="#555">(d)</text>
</g>
</svg>
</body></html>
